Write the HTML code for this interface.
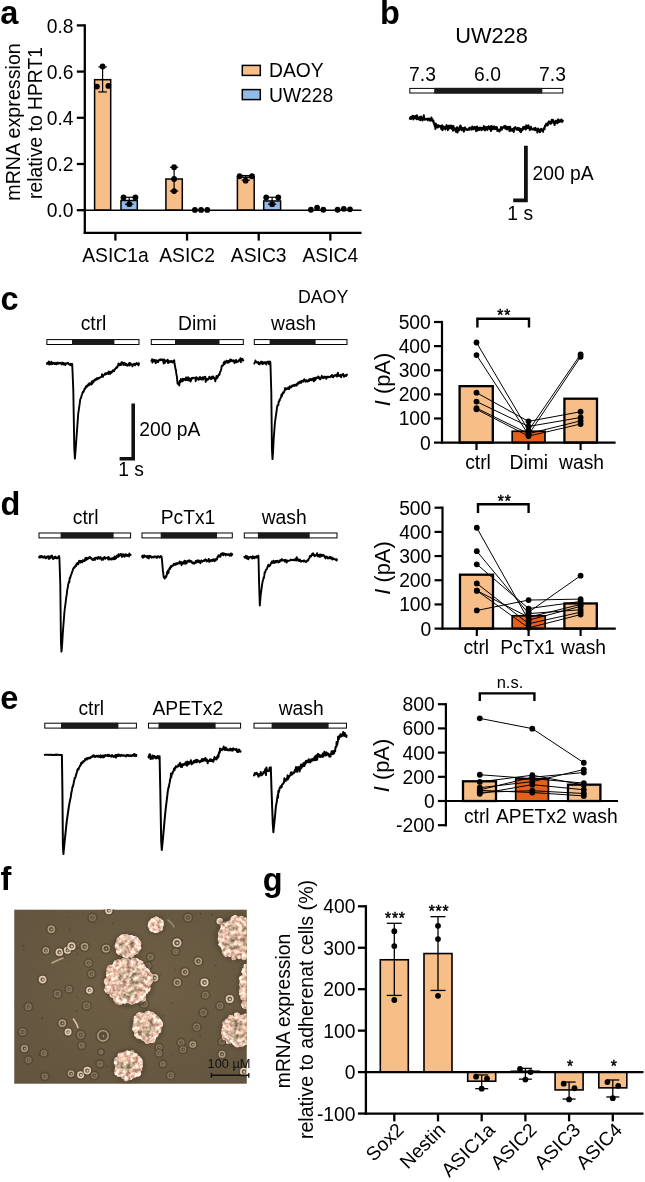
<!DOCTYPE html>
<html lang="en">
<head>
<meta charset="utf-8">
<title>ASIC expression in medulloblastoma cell lines</title>
<style>
html,body{margin:0;padding:0;background:#fff;}
body{width:645px;height:1182px;overflow:hidden;}
svg{display:block;font-family:'Liberation Sans', Arial, Helvetica, sans-serif;fill:#000;}
</style>
</head>
<body>
<svg width="645" height="1182" viewBox="0 0 645 1182">
<rect x="0" y="0" width="645" height="1182" fill="#fff"/>
<g id="panel-a">
<text x="0.3" y="23.9" font-size="32.5" font-weight="bold">a</text>
<text x="19.6" y="122" font-size="19.7" text-anchor="middle" transform="rotate(-90 19.6 122)">mRNA expression</text>
<text x="42.2" y="123" font-size="19.3" text-anchor="middle" transform="rotate(-90 42.2 123)">relative to HPRT1</text>
<rect x="94.6" y="79.69" width="16.1" height="130.51" fill="#F7BF87" stroke="#000" stroke-width="1.5"/>
<line x1="102.6" y1="66.98" x2="102.6" y2="91.93" stroke="#000" stroke-width="1.2"/>
<line x1="98.4" y1="66.98" x2="106.8" y2="66.98" stroke="#000" stroke-width="1.2"/>
<line x1="98.4" y1="91.93" x2="106.8" y2="91.93" stroke="#000" stroke-width="1.2"/>
<circle cx="102.6" cy="66.52" r="2.9"/>
<circle cx="96.9" cy="86.61" r="2.9"/>
<circle cx="108.4" cy="85.92" r="2.9"/>
<rect x="121" y="200.5" width="16.3" height="9.7" fill="#8FBCE9" stroke="#000" stroke-width="1.5"/>
<line x1="129.2" y1="197.26" x2="129.2" y2="204.19" stroke="#000" stroke-width="1.2"/>
<line x1="125" y1="197.26" x2="133.4" y2="197.26" stroke="#000" stroke-width="1.2"/>
<line x1="125" y1="204.19" x2="133.4" y2="204.19" stroke="#000" stroke-width="1.2"/>
<circle cx="123.5" cy="197.49" r="2.9"/>
<circle cx="135.4" cy="197.49" r="2.9"/>
<circle cx="129.3" cy="204.19" r="2.9"/>
<rect x="165.9" y="179.01" width="16.4" height="31.19" fill="#F7BF87" stroke="#000" stroke-width="1.5"/>
<line x1="174.1" y1="167.23" x2="174.1" y2="191.03" stroke="#000" stroke-width="1.2"/>
<line x1="169.9" y1="167.23" x2="178.3" y2="167.23" stroke="#000" stroke-width="1.2"/>
<line x1="169.9" y1="191.03" x2="178.3" y2="191.03" stroke="#000" stroke-width="1.2"/>
<circle cx="174.1" cy="167.23" r="2.9"/>
<circle cx="174.1" cy="179.01" r="2.9"/>
<circle cx="174.1" cy="191.03" r="2.9"/>
<circle cx="194.9" cy="209.97" r="2.9"/>
<circle cx="201.1" cy="209.97" r="2.9"/>
<circle cx="207.3" cy="209.97" r="2.9"/>
<rect x="237.4" y="177.17" width="16.8" height="33.03" fill="#F7BF87" stroke="#000" stroke-width="1.5"/>
<line x1="245.8" y1="175.55" x2="245.8" y2="180.17" stroke="#000" stroke-width="1.2"/>
<line x1="241.6" y1="175.55" x2="250" y2="175.55" stroke="#000" stroke-width="1.2"/>
<line x1="241.6" y1="180.17" x2="250" y2="180.17" stroke="#000" stroke-width="1.2"/>
<circle cx="239.6" cy="176.24" r="2.9"/>
<circle cx="252" cy="176.24" r="2.9"/>
<circle cx="245.6" cy="180.63" r="2.9"/>
<rect x="263.7" y="200.96" width="16.9" height="9.24" fill="#8FBCE9" stroke="#000" stroke-width="1.5"/>
<line x1="272.1" y1="197.26" x2="272.1" y2="204.19" stroke="#000" stroke-width="1.2"/>
<line x1="267.9" y1="197.26" x2="276.3" y2="197.26" stroke="#000" stroke-width="1.2"/>
<line x1="267.9" y1="204.19" x2="276.3" y2="204.19" stroke="#000" stroke-width="1.2"/>
<circle cx="266.2" cy="197.49" r="2.9"/>
<circle cx="278.3" cy="197.49" r="2.9"/>
<circle cx="272.2" cy="204.19" r="2.9"/>
<circle cx="310.9" cy="209.74" r="2.9"/>
<circle cx="317.1" cy="207.66" r="2.9"/>
<circle cx="323.3" cy="209.74" r="2.9"/>
<circle cx="337.6" cy="209.74" r="2.9"/>
<circle cx="343.8" cy="208.81" r="2.9"/>
<circle cx="350" cy="209.28" r="2.9"/>
<line x1="84.8" y1="24.3" x2="84.8" y2="233.9" stroke="#000" stroke-width="2.3"/>
<line x1="83.7" y1="232.8" x2="361.5" y2="232.8" stroke="#000" stroke-width="2.3"/>
<line x1="84.8" y1="210.2" x2="361.5" y2="210.2" stroke="#000" stroke-width="1.6"/>
<line x1="76.8" y1="210.2" x2="84.8" y2="210.2" stroke="#000" stroke-width="2.3"/>
<text x="73.6" y="217.4" font-size="19.3" text-anchor="end">0.0</text>
<line x1="76.8" y1="164" x2="84.8" y2="164" stroke="#000" stroke-width="2.3"/>
<text x="73.6" y="171.2" font-size="19.3" text-anchor="end">0.2</text>
<line x1="76.8" y1="117.8" x2="84.8" y2="117.8" stroke="#000" stroke-width="2.3"/>
<text x="73.6" y="125" font-size="19.3" text-anchor="end">0.4</text>
<line x1="76.8" y1="71.6" x2="84.8" y2="71.6" stroke="#000" stroke-width="2.3"/>
<text x="73.6" y="78.8" font-size="19.3" text-anchor="end">0.6</text>
<line x1="76.8" y1="25.4" x2="84.8" y2="25.4" stroke="#000" stroke-width="2.3"/>
<text x="73.6" y="32.6" font-size="19.3" text-anchor="end">0.8</text>
<line x1="115.4" y1="232.8" x2="115.4" y2="240.6" stroke="#000" stroke-width="2.3"/>
<text x="115.4" y="262" font-size="19.3" text-anchor="middle">ASIC1a</text>
<line x1="187.05" y1="232.8" x2="187.05" y2="240.6" stroke="#000" stroke-width="2.3"/>
<text x="187.05" y="262" font-size="19.3" text-anchor="middle">ASIC2</text>
<line x1="258.7" y1="232.8" x2="258.7" y2="240.6" stroke="#000" stroke-width="2.3"/>
<text x="258.7" y="262" font-size="19.3" text-anchor="middle">ASIC3</text>
<line x1="330.35" y1="232.8" x2="330.35" y2="240.6" stroke="#000" stroke-width="2.3"/>
<text x="330.35" y="262" font-size="19.3" text-anchor="middle">ASIC4</text>
<rect x="242.3" y="65.4" width="18" height="10" fill="#F7BF87" stroke="#000" stroke-width="1.5"/>
<text x="269" y="77" font-size="19.3">DAOY</text>
<rect x="242.3" y="89.6" width="18" height="10" fill="#8FBCE9" stroke="#000" stroke-width="1.5"/>
<text x="269" y="101.7" font-size="19.3">UW228</text>
</g>
<g id="panel-b">
<text x="380" y="24" font-size="32.5" font-weight="bold">b</text>
<text x="491.5" y="42.5" font-size="21.8" text-anchor="middle">UW228</text>
<text x="422.5" y="81" font-size="19.3" text-anchor="middle">7.3</text>
<text x="487.5" y="81" font-size="19.3" text-anchor="middle">6.0</text>
<text x="552.5" y="81" font-size="19.3" text-anchor="middle">7.3</text>
<rect x="409.8" y="88.4" width="153" height="4.6" fill="#fff" stroke="#000" stroke-width="1"/>
<rect x="434.2" y="87.9" width="108.1" height="5.6" fill="#1a1a1a"/>
<polyline fill="none" stroke="#000" stroke-width="2" stroke-linejoin="round" stroke-linecap="round" points="409.8,118.72 410.2,117.99 410.6,116.96 411,119 411.4,118.53 411.8,116.54 412.2,117.46 412.6,115.92 413,115.84 413.4,119.39 413.8,116.35 414.2,118.12 414.6,118.18 415,117.93 415.4,116.01 415.8,116.02 416.2,118.27 416.6,119.3 417,115.25 417.4,116.82 417.8,117.41 418.2,119.07 418.6,118.72 419,119.36 419.4,118.66 419.8,117.08 420,118.29 420.2,120.18 420.6,118.78 421,116.54 421.4,119.84 421.8,118.44 422.2,119.07 422.6,120.49 423,117.42 423.4,117.39 423.8,115.24 424.2,118.62 424.6,119.71 425,118.76 425.4,118.74 425.8,119.5 426.2,119.12 426.6,119.11 427,118.72 427.4,118.64 427.8,120.4 428.2,119.2 428.6,118.42 429,118.38 429.4,119.58 429.8,119.97 430.2,120.58 430.6,119.99 431,119.44 431.4,117.53 431.8,120.24 432.2,118.93 432.5,119.53 432.6,121.23 433,120.91 433.4,120.49 433.8,123.5 434.2,123.6 434.2,123.21 434.6,125.81 435,124.77 435.4,128.9 435.8,123.56 436.2,125.1 436.6,125.88 437,127.17 437.4,125.22 437.8,127.52 438.2,125.61 438.6,125.21 439,126.32 439.4,126.4 439.8,126.66 440,125.96 440.2,126.12 440.6,127.44 441,127.65 441.4,129.34 441.8,125.64 442.2,125.31 442.6,130.15 443,127.9 443.4,128.08 443.8,126.52 444.2,128.5 444.6,128.27 445,128.3 445.4,129.47 445.8,126.55 446.2,127.44 446.6,125.13 447,127.78 447.4,126.32 447.8,130.2 448,125.97 448.2,129.47 448.6,126.52 449,125.58 449.4,128.02 449.8,128.41 450.2,127.26 450.6,126.88 451,125.55 451.4,128.06 451.8,128.75 452.2,125.87 452.6,128.72 453,130.68 453.4,125.92 453.8,128.76 454.2,129 454.6,128.12 455,130.02 455,128.29 455.4,130.1 455.8,131.85 456.2,129.09 456.6,128.82 457,127.34 457.4,132.52 457.8,131.57 458.2,128.19 458.6,128.97 459,128.33 459.4,130.28 459.8,126.28 460.2,129.17 460.6,125.44 461,128.86 461.4,127.31 461.8,130.19 462.2,129.34 462.6,128.16 463,128.14 463.4,127.98 463.8,131.63 464.2,130.39 464.6,128.06 465,127.4 465.4,129.43 465.8,128.93 466.2,128.74 466.6,129.54 467,129.92 467.4,129.45 467.8,130 468.2,129.42 468.6,129.24 469,128.13 469.4,129.71 469.8,128.4 470,127.48 470.2,128.31 470.6,127.85 471,128.38 471.4,128.92 471.8,129.68 472.2,126.39 472.6,128.36 473,128.72 473.4,127.14 473.8,129.32 474.2,128.21 474.6,128.15 475,126.9 475.4,127.24 475.8,129.25 476.2,131.2 476.6,128.72 477,126.4 477.4,130.57 477.8,129 478.2,130.16 478.6,127.96 479,130.03 479.4,129.19 479.8,127.44 480.2,128.22 480.6,128.78 481,127.75 481.4,130.35 481.8,128.06 482.2,129.54 482.6,128.03 483,129.56 483.4,129.36 483.8,126.03 484.2,128.18 484.6,129.18 485,127.8 485,130.44 485.4,129.7 485.8,126.92 486.2,127.52 486.6,128.24 487,126.94 487.4,129.99 487.8,128.79 488.2,127.84 488.6,126.31 489,126.55 489.4,126.86 489.8,129.16 490.2,126.75 490.6,128.69 491,131.02 491.4,125.99 491.8,126.83 492.2,129.38 492.6,128.29 493,126.48 493.4,127.88 493.8,127.83 494.2,129.2 494.6,126.51 495,127.54 495.4,128.09 495.8,129.02 496.2,128.59 496.6,126.9 497,127.65 497.4,131.1 497.8,129.27 498.2,130.49 498.6,130.28 499,130.63 499.4,131.57 499.8,129.63 500,130.72 500.2,129.79 500.6,129.49 501,127.02 501.4,127.85 501.8,129.76 502.2,127.87 502.6,127.61 503,127.72 503.4,126.57 503.8,126.63 504.2,127.7 504.6,126.52 505,125.91 505.4,128.68 505.8,128.81 506.2,127.94 506.6,126.61 507,129.45 507.4,129.08 507.8,127.05 508.2,127.76 508.6,127.24 509,126.78 509.4,130.99 509.8,131.11 510.2,126.77 510.6,130.01 511,129.02 511.4,129.61 511.8,130.71 512.2,130.7 512.6,129.14 513,128.86 513.4,130.38 513.8,131.95 514.2,127.78 514.6,128.32 515,128.34 515.4,127.09 515.8,127.87 516.2,129.65 516.6,129.05 517,128.52 517.4,128.43 517.8,127.81 518.2,130.02 518.6,128.59 519,128.03 519.4,128.64 519.8,129.6 520,131.36 520.2,129.45 520.6,128.79 521,132.21 521.4,129.16 521.8,130.72 522.2,129.68 522.6,129.74 523,127.25 523.4,129.15 523.8,127.94 524.2,126.75 524.6,128.46 525,128.01 525.4,128.55 525.8,129.53 526.2,125.27 526.6,128.47 527,126.14 527.4,125.83 527.8,128.07 528.2,127.66 528.6,125.38 529,128.3 529.4,128.63 529.8,129.91 530.2,129.73 530.6,128.34 531,126.67 531.4,128.79 531.8,129.16 532.2,129.14 532.6,129.51 533,128.95 533.4,129.45 533.8,128.36 534.2,128.54 534.6,129.65 535,130.25 535.4,127.71 535.8,129.01 536.2,129.71 536.6,130.2 537,129.45 537.4,132.56 537.8,129.68 538,128.58 538.2,128.96 538.6,129.17 539,129.77 539.4,130.2 539.8,132.2 540.2,132 540.6,131 541,128.75 541.4,130.55 541.8,129.25 542.2,129.87 542.6,130.4 543,129.41 543,131.84 543.4,129.27 543.8,128.32 544.2,127.76 544.6,129.2 545,125.59 545.4,126.26 545.8,124.75 546,125.6 546.2,123.66 546.6,124.59 547,125.25 547.4,123.34 547.8,125.45 548.2,122.35 548.6,122.84 549,121.37 549.4,123.21 549.5,122.72 549.8,122.35 550.2,123.83 550.6,121.79 551,123.7 551.4,121.34 551.8,119.81 552.2,120.5 552.6,120.89 553,119.82 553,120.25 553.4,123.08 553.8,121.44 554.2,122.74 554.6,124.99 555,122.81 555.4,120.96 555.8,123.06 556.2,120.63 556.6,122.63 557,122.61 557.4,123.17 557.8,120.37 558.2,119.32 558.6,122.15 559,122.19 559.4,121.13 559.8,120.38 560.2,120.46 560.6,120.07 561,121.71 561.4,119.45 561.8,120.6 562.2,121.81 562.6,121.39 562.8,120.78"/>
<polyline fill="none" stroke="#111" stroke-width="3.8" stroke-linejoin="miter" points="525.9,145.8 525.9,200.4 513.2,200.4"/>
<text x="532.6" y="179.6" font-size="19.3">200 pA</text>
<text x="507.3" y="219.6" font-size="19.3">1 s</text>
</g>
<g id="panel-c">
<text x="0.6" y="309.5" font-size="32.5" font-weight="bold">c</text>
<text x="348.3" y="303.3" font-size="17.8" text-anchor="end">DAOY</text>
<text x="93.5" y="329.6" font-size="19.3" text-anchor="middle">ctrl</text>
<text x="197.3" y="329.6" font-size="19.3" text-anchor="middle">Dimi</text>
<text x="293.5" y="329.6" font-size="19.3" text-anchor="middle">wash</text>
<rect x="46.9" y="339.6" width="92.1" height="4.9" fill="#fff" stroke="#000" stroke-width="1"/>
<rect x="72" y="339.1" width="42.4" height="5.9" fill="#1a1a1a"/>
<rect x="151.3" y="339.6" width="92" height="4.9" fill="#fff" stroke="#000" stroke-width="1"/>
<rect x="175" y="339.1" width="44.5" height="5.9" fill="#1a1a1a"/>
<rect x="254.3" y="339.6" width="92.7" height="4.9" fill="#fff" stroke="#000" stroke-width="1"/>
<rect x="269.6" y="339.1" width="46" height="5.9" fill="#1a1a1a"/>
<polyline fill="none" stroke="#000" stroke-width="1.9" stroke-linejoin="round" stroke-linecap="round" points="46.9,363.96 47.3,362.6 47.7,362.75 48.1,362.42 48.5,363.76 48.9,361.52 49.3,364.62 49.7,362.67 50.1,363.38 50.5,363.12 50.9,364.27 51.3,361.7 51.7,362.95 52.1,363.02 52.5,364.03 52.9,362.71 53.3,363.49 53.7,363.13 54.1,363.9 54.5,364.05 54.9,362.7 55.3,364.13 55.7,364.09 56.1,363.87 56.5,364.24 56.9,362.82 57.3,363.09 57.7,362.42 58.1,363.13 58.5,363.84 58.9,363.16 59.3,363.24 59.7,363.1 60,362.68 60.1,362.92 60.5,363.43 60.9,362.62 61.3,363.55 61.7,364.5 62.1,363.81 62.5,363.1 62.9,362.63 63.3,362.97 63.7,364.62 64.1,363.53 64.5,363.3 64.9,363.66 65.3,365.04 65.7,363.51 66.1,363.88 66.5,363.8 66.9,363.24 67.3,362.71 67.7,363.29 68.1,363.08 68.5,363.98 68.9,364.3 69.3,364.66 69.7,364.15 70.1,364.76 70.5,363.68 70.9,365.3 71.3,364.69 71.7,364.1 72.1,364.43 72.2,363.97 72.5,370.9 72.9,380.54 73.3,390.14 73.3,389.88 73.7,413.48 74.1,437.14 74.3,449.01 74.5,452.27 74.9,458.64 74.9,458.49 75.3,453.56 75.5,451.1 75.7,448.32 76.1,442.91 76.5,437.39 76.6,435.99 76.9,431.87 77.3,426.34 77.7,420.79 78.1,415.27 78.2,413.87 78.5,411.84 78.9,409.01 79.3,406.28 79.7,403.65 80.1,400.33 80.2,399.51 80.5,398.71 80.9,398.15 81.3,396.64 81.7,395.27 82.1,394.26 82.5,392.66 82.8,392.6 82.9,391.59 83.3,392.28 83.7,391.04 84.1,390.7 84.5,388.71 84.9,388.88 85.3,388.87 85.7,386.75 86,386.95 86.1,387.12 86.5,385.81 86.9,386.76 87.3,386.5 87.7,385.05 88.1,385.68 88.5,384 88.9,384.74 89.3,383.3 89.7,384.91 90.1,384.16 90.5,383.5 90.9,383.19 91,384.42 91.3,384.47 91.7,381.52 92.1,383.66 92.5,383.58 92.9,382.25 93.3,380.59 93.7,381.83 94.1,380.53 94.5,380.04 94.9,379.52 95.3,380.34 95.7,380.09 96.1,378.62 96.5,379.59 96.9,378.11 97.3,379.25 97.7,378.33 98,378.08 98.1,377.88 98.5,378.58 98.9,378.32 99.3,378.37 99.7,377.48 100.1,377.27 100.5,377.42 100.9,377.19 101.3,377.14 101.7,376.43 102.1,374.29 102.5,376.48 102.9,376.88 103.3,375.68 103.7,375.02 104.1,374.97 104.5,374.82 104.9,374.73 105,373.54 105.3,373.89 105.7,373.37 106.1,374.17 106.5,373.5 106.9,373.67 107.3,372.72 107.7,373.36 108.1,372.58 108.5,374.04 108.9,371.36 109.3,372.19 109.7,372.94 110.1,373.94 110.5,372 110.9,372.01 111.3,371.58 111.7,372.71 112.1,371.55 112.5,371.81 112.5,371.22 112.9,370.18 113.3,370.94 113.7,370.8 114.1,371.13 114.5,369.78 114.9,368.93 115.3,369.08 115.5,368.52 115.7,368.34 116.1,367.6 116.5,368.03 116.9,366.77 117.3,367.46 117.7,366.16 118.1,365.5 118.5,363.53 118.5,365.43 118.9,365.05 119.3,365.13 119.7,365.23 120.1,364.01 120.5,364.52 120.9,363.49 121,365.02 121.3,362.65 121.7,362.19 122.1,362.09 122.5,362.88 122.9,362.68 123.3,365.04 123.7,363.5 124.1,362.76 124.5,364.86 124.9,363.83 125.3,363.36 125.7,365.14 126.1,364.84 126.5,364 126.9,365.6 127.3,364.66 127.7,365.65 128.1,364.42 128.5,364.93 128.9,364.03 129.3,362.91 129.7,365.67 130,363.41 130.1,363.35 130.5,363.14 130.9,363.77 131.3,364.43 131.7,364.74 132.1,365.26 132.5,366.31 132.9,364.78 133.3,364.12 133.7,364.36 134.1,364.62 134.5,363.8 134.9,365.37 135.3,364.19 135.7,364.21 136.1,364.06 136.5,363.05 136.9,363.48 137.3,364.33 137.7,364.37 138.1,363.57 138.5,365.43 138.9,363.3 139,363.94"/>
<polyline fill="none" stroke="#000" stroke-width="1.9" stroke-linejoin="round" stroke-linecap="round" points="151.3,360.71 151.7,360.99 152.1,359.27 152.5,362.58 152.9,359.63 153.3,360.04 153.7,361.32 154.1,359.81 154.5,359.89 154.9,360.13 155.3,361.73 155.7,363.19 156.1,361.33 156.5,360.19 156.9,361.87 157.3,360.81 157.7,361.12 158.1,362.19 158.5,360.34 158.9,360.71 159.3,359.72 159.7,360.02 160.1,360.42 160.5,359.32 160.9,359.87 161.3,360.03 161.7,359.64 162.1,359.46 162.5,359.5 162.9,360.93 163.3,361.03 163.7,363.54 164.1,359.42 164.5,361.45 164.9,361.81 165,362.73 165.3,361.82 165.7,360.47 166.1,360.88 166.5,361.25 166.9,360.48 167.3,361.82 167.7,359.73 168.1,363.12 168.5,362.76 168.9,361.14 169.3,362.02 169.7,361.61 170.1,360.97 170.5,361.57 170.9,362.18 171.3,361.23 171.7,361.05 172.1,361.33 172.5,361.77 172.9,362.51 173.3,361.02 173.7,361.99 174.1,361.84 174.2,360.22 174.5,362.95 174.9,365.5 175.3,367.77 175.7,370.22 176,369.9 176.1,372.33 176.5,374.57 176.9,376.71 177.3,381.1 177.6,383.6 177.7,382.16 178.1,384.04 178.5,384.08 178.9,384.81 179,383.74 179.3,385.54 179.7,380.95 180.1,382.46 180.5,382.1 180.8,379.07 180.9,380.9 181.3,380.46 181.7,380.8 182.1,381.38 182.5,379.65 182.9,378.71 183.3,380.67 183.7,380.47 184.1,378.96 184.5,379.37 184.9,379.12 185,379.44 185.3,379.02 185.7,380.18 186.1,377.33 186.5,380.03 186.9,379.39 187.3,378.93 187.7,380.35 188.1,377.29 188.5,380.47 188.9,379.69 189.3,378.27 189.7,379.8 190.1,378.96 190.5,381.61 190.9,380.7 191.3,378.96 191.7,377.97 192.1,377.8 192.5,378.5 192.9,378.46 193.3,377.73 193.7,377.92 194.1,377.88 194.5,377.88 194.9,377.91 195.3,377.79 195.7,381.22 196.1,377.29 196.5,377.31 196.9,378.83 197.3,378.16 197.7,379.06 198.1,379.29 198.5,379.81 198.9,379.27 199.3,377.5 199.7,379.28 200,377.05 200.1,378.77 200.5,378.57 200.9,377.88 201.3,379.43 201.7,378.64 202.1,379.43 202.5,377.32 202.9,379.62 203.3,379.15 203.7,378.28 204.1,376.87 204.5,378.16 204.9,377.06 205.3,376.71 205.7,381.89 206.1,380.06 206.5,380.63 206.9,378.7 207.3,379.85 207.7,379.75 208.1,379.51 208.5,378.71 208.9,378.57 209.3,376.64 209.7,378.66 210.1,378.5 210.5,378.82 210.9,377.45 211.3,379.11 211.7,377.19 212.1,376.53 212.5,378.41 212.9,377.08 213.3,376.52 213.7,377.48 214.1,378.49 214.5,378.12 214.9,378.5 215.3,381.43 215.7,378.47 216.1,378.83 216.5,375.99 216.9,377.79 217.3,378.01 217.6,376.8 217.7,376.32 218.1,376.43 218.5,375.05 218.9,374.24 219.3,374.98 219.5,374.64 219.7,373.43 220.1,371.72 220.5,371.32 220.9,370.31 221.3,369 221.7,365.85 222,365.68 222.1,366.04 222.5,365.96 222.9,365.53 223.3,364.89 223.7,362.82 224.1,362.39 224.5,361.5 224.5,364.19 224.9,362.53 225.3,362.9 225.7,362.78 226.1,361.46 226.5,360.62 226.9,361.39 227.3,361.61 227.7,362.84 228,362.35 228.1,360.98 228.5,362.48 228.9,362.52 229.3,360.84 229.7,361.57 230.1,359.52 230.5,361.37 230.9,360.62 231.3,359.8 231.7,360.1 232.1,361.19 232.5,360.55 232.9,361.25 233.3,361.3 233.7,360.34 234.1,361.02 234.5,363.19 234.9,361.29 235.3,360.62 235.7,361.07 236.1,359.93 236.5,362.32 236.9,361.53 237.3,361.68 237.7,361.37 238.1,361.02 238.5,361.55 238.9,360.62 239.3,359.74 239.7,359.6 240.1,359.77 240.5,358.29 240.9,362.24 241.3,359.05 241.7,360.25 242.1,359.22 242.5,358.83 242.9,360.64 243.3,360.19 243.3,360.51"/>
<polyline fill="none" stroke="#000" stroke-width="1.9" stroke-linejoin="round" stroke-linecap="round" points="254.3,363.58 254.7,362.49 255.1,362.14 255.5,360.5 255.9,362.14 256.3,361.94 256.7,362.48 257.1,362.31 257.5,362.72 257.9,362.62 258.3,362.04 258.7,364.1 259.1,364.01 259.5,364.42 259.9,363.04 260.3,362.54 260.7,362.4 261.1,361.53 261.5,363.65 261.9,362.02 262,361.83 262.3,362.82 262.7,364.2 263.1,362.95 263.5,362.12 263.9,362.15 264.3,363.38 264.7,362.54 265.1,362.08 265.5,362.31 265.9,363.33 266.3,364.51 266.7,362.18 267.1,362.67 267.5,362.66 267.9,361.51 268.3,362.98 268.7,362.66 269.1,364.41 269.5,363.03 269.9,361.39 270.3,363.02 270.4,362.27 270.7,372.35 271.1,385.42 271.3,391.9 271.5,409.72 271.9,445.48 271.95,449.77 272.3,455.69 272.5,459.07 272.7,456.49 273.05,452.07 273.1,450.97 273.5,442.25 273.6,439.89 273.9,436.21 274.3,430.87 274.7,425.79 275,421.84 275.1,421.4 275.5,418.59 275.9,415.67 276.3,413.01 276.7,409.99 277,407.93 277.1,407.22 277.5,405.12 277.9,405.16 278.3,405.21 278.7,401.69 279.1,401.59 279.5,399.66 279.8,400.36 279.9,399.36 280.3,398.59 280.7,397.9 281.1,396.52 281.5,394.37 281.9,396.29 282.3,393.57 282.7,393.87 283,393.46 283.1,392.12 283.5,392.46 283.9,392.63 284.3,391.49 284.7,390.06 285.1,387.9 285.5,389.34 285.9,389.69 286.3,389.17 286.7,388.53 287,388.84 287.1,388.18 287.5,388.32 287.9,388.91 288.3,387.41 288.7,387.45 289.1,389.15 289.5,388.14 289.9,386.19 290.3,387.09 290.7,387.21 291.1,387.48 291.5,386.58 291.9,385.78 292,385.75 292.3,386.46 292.7,385.96 293.1,385.11 293.5,385.41 293.9,385.26 294.3,385.97 294.7,384.8 295.1,385.51 295.5,385.56 295.9,385.19 296.3,384.18 296.7,385.51 297.1,383.8 297.5,384.37 297.9,383.35 298.3,382.33 298.7,383.61 299.1,383.14 299.5,382.53 299.9,382.45 300,381.6 300.3,381.38 300.7,381.6 301.1,382.95 301.5,381.74 301.9,380.76 302.3,381.59 302.7,380.71 303.1,380.57 303.5,381.71 303.9,380.11 304.3,379.19 304.7,379.85 305.1,380.72 305.5,380.85 305.9,381.79 306.3,380.18 306.7,381.09 307.1,380.77 307.5,380.66 307.9,381.55 308.3,381.02 308.7,379.71 309.1,380.96 309.5,379.17 309.9,380.1 310.3,379.98 310.5,380.16 310.7,379.05 311.1,379.27 311.5,379.35 311.9,380.3 312.3,378.79 312.7,379.32 313.1,378.89 313.5,378.12 313.9,381.26 314.3,379.05 314.7,378.11 315.1,380.23 315.5,377.79 315.9,378.74 316.3,378.8 316.7,377.39 317.1,377.33 317.5,377.36 317.9,377.84 318.3,376.35 318.7,376.72 319.1,377.94 319.5,378.69 319.9,378.38 320.3,379.38 320.7,378.62 321.1,377.24 321.5,377.21 321.9,375.83 322,376.7 322.3,376.7 322.7,377.78 323.1,378.28 323.5,377.36 323.9,377.08 324.3,376.57 324.7,377.65 325.1,377.82 325.5,377.74 325.9,376.62 326.3,378.86 326.7,377.88 327.1,376.83 327.5,376.65 327.9,376.6 328.3,377.14 328.7,376.83 329.1,377.1 329.5,377.04 329.9,377.23 330.3,376.96 330.7,376.02 331.1,376.21 331.5,375.59 331.9,375.06 332.3,376.97 332.7,375.31 333.1,377.4 333.5,375.6 333.9,376.1 334.3,376.35 334.7,375.46 335,375.59 335.1,375.1 335.5,375 335.9,375.08 336.3,374.6 336.7,376.44 337.1,374.78 337.5,376.35 337.9,372.78 338.3,375.13 338.7,375.72 339.1,375.06 339.5,376 339.9,375.28 340.3,374.67 340.7,375.54 341.1,377.21 341.5,375.27 341.9,375.31 342.3,374.46 342.7,375.01 343.1,373.84 343.5,374.77 343.9,376.9 344.3,375.63 344.7,375.36 345.1,375.79 345.5,375.94 345.9,375.02 346.3,375.92 346.7,375.13 347,374.52"/>
<polyline fill="none" stroke="#111" stroke-width="3.6" stroke-linejoin="miter" points="133.2,403.4 133.2,458.8 119.6,458.8"/>
<text x="139.2" y="436.4" font-size="19.3">200 pA</text>
<text x="118.2" y="475.6" font-size="19.3">1 s</text>
<rect x="459.6" y="386.16" width="33.2" height="56.44" fill="#F7BF87" stroke="#000" stroke-width="2.3"/>
<rect x="512.2" y="431.26" width="32.8" height="11.34" fill="#E5601B" stroke="#000" stroke-width="1.7"/>
<rect x="564.4" y="398.7" width="32.6" height="43.9" fill="#F7BF87" stroke="#000" stroke-width="2.3"/>
<polyline fill="none" stroke="#000" stroke-width="1" stroke-linejoin="miter" stroke-linecap="round" points="476.5,342.5 528.5,430.54 580.6,354.32"/>
<polyline fill="none" stroke="#000" stroke-width="1" stroke-linejoin="miter" stroke-linecap="round" points="476.5,355.04 528.5,434.64 580.6,356.73"/>
<polyline fill="none" stroke="#000" stroke-width="1" stroke-linejoin="miter" stroke-linecap="round" points="476.5,392.67 528.5,421.37 580.6,411.73"/>
<polyline fill="none" stroke="#000" stroke-width="1" stroke-linejoin="miter" stroke-linecap="round" points="476.5,401.6 528.5,426.44 580.6,417.52"/>
<polyline fill="none" stroke="#000" stroke-width="1" stroke-linejoin="miter" stroke-linecap="round" points="476.5,408.11 528.5,433.68 580.6,420.89"/>
<polyline fill="none" stroke="#000" stroke-width="1" stroke-linejoin="miter" stroke-linecap="round" points="476.5,409.31 528.5,436.09 580.6,424.03"/>
<circle cx="476.5" cy="342.5" r="2.9"/>
<circle cx="528.5" cy="430.54" r="2.9"/>
<circle cx="580.6" cy="354.32" r="2.9"/>
<circle cx="476.5" cy="355.04" r="2.9"/>
<circle cx="528.5" cy="434.64" r="2.9"/>
<circle cx="580.6" cy="356.73" r="2.9"/>
<circle cx="476.5" cy="392.67" r="2.9"/>
<circle cx="528.5" cy="421.37" r="2.9"/>
<circle cx="580.6" cy="411.73" r="2.9"/>
<circle cx="476.5" cy="401.6" r="2.9"/>
<circle cx="528.5" cy="426.44" r="2.9"/>
<circle cx="580.6" cy="417.52" r="2.9"/>
<circle cx="476.5" cy="408.11" r="2.9"/>
<circle cx="528.5" cy="433.68" r="2.9"/>
<circle cx="580.6" cy="420.89" r="2.9"/>
<circle cx="476.5" cy="409.31" r="2.9"/>
<circle cx="528.5" cy="436.09" r="2.9"/>
<circle cx="580.6" cy="424.03" r="2.9"/>
<line x1="442" y1="320.9" x2="442" y2="443.7" stroke="#000" stroke-width="2.2"/>
<line x1="440.9" y1="442.6" x2="615.6" y2="442.6" stroke="#000" stroke-width="2.2"/>
<line x1="434" y1="442.6" x2="442" y2="442.6" stroke="#000" stroke-width="2.2"/>
<text x="430.8" y="449.6" font-size="19.3" text-anchor="end">0</text>
<line x1="434" y1="418.48" x2="442" y2="418.48" stroke="#000" stroke-width="2.2"/>
<text x="430.8" y="425.48" font-size="19.3" text-anchor="end">100</text>
<line x1="434" y1="394.36" x2="442" y2="394.36" stroke="#000" stroke-width="2.2"/>
<text x="430.8" y="401.36" font-size="19.3" text-anchor="end">200</text>
<line x1="434" y1="370.24" x2="442" y2="370.24" stroke="#000" stroke-width="2.2"/>
<text x="430.8" y="377.24" font-size="19.3" text-anchor="end">300</text>
<line x1="434" y1="346.12" x2="442" y2="346.12" stroke="#000" stroke-width="2.2"/>
<text x="430.8" y="353.12" font-size="19.3" text-anchor="end">400</text>
<line x1="434" y1="322" x2="442" y2="322" stroke="#000" stroke-width="2.2"/>
<text x="430.8" y="329" font-size="19.3" text-anchor="end">500</text>
<line x1="476.5" y1="442.6" x2="476.5" y2="450" stroke="#000" stroke-width="2.2"/>
<line x1="528.5" y1="442.6" x2="528.5" y2="450" stroke="#000" stroke-width="2.2"/>
<line x1="580.6" y1="442.6" x2="580.6" y2="450" stroke="#000" stroke-width="2.2"/>
<text x="478" y="468.6" font-size="19.3" text-anchor="middle">ctrl</text>
<text x="528.8" y="468.6" font-size="19.3" text-anchor="middle">Dimi</text>
<text x="581.5" y="468.6" font-size="19.3" text-anchor="middle">wash</text>
<text x="389.8" y="379.5" font-size="21.8" text-anchor="middle" transform="rotate(-90 389.8 379.5)"><tspan font-style="italic">I</tspan> (pA)</text>
<polyline fill="none" stroke="#000" stroke-width="2.4" stroke-linejoin="miter" points="477.4,327.6 477.4,318.7 529,318.7 529,327.6"/>
<text x="504.2" y="321" font-size="15.6" text-anchor="middle" stroke="#000" stroke-width="0.45" letter-spacing="0.9">**</text>
</g>
<g id="panel-d">
<text x="0.6" y="515.1" font-size="32.5" font-weight="bold">d</text>
<text x="85.7" y="523.8" font-size="19.3" text-anchor="middle">ctrl</text>
<text x="188" y="523.8" font-size="19.3" text-anchor="middle">PcTx1</text>
<text x="284.2" y="523.8" font-size="19.3" text-anchor="middle">wash</text>
<rect x="39" y="533" width="91.6" height="4.9" fill="#fff" stroke="#000" stroke-width="1"/>
<rect x="60.6" y="532.5" width="53" height="5.9" fill="#1a1a1a"/>
<rect x="142" y="533" width="90.3" height="4.9" fill="#fff" stroke="#000" stroke-width="1"/>
<rect x="160.7" y="532.5" width="56.3" height="5.9" fill="#1a1a1a"/>
<rect x="244.3" y="533" width="92.7" height="4.9" fill="#fff" stroke="#000" stroke-width="1"/>
<rect x="257.9" y="532.5" width="51.8" height="5.9" fill="#1a1a1a"/>
<polyline fill="none" stroke="#000" stroke-width="1.9" stroke-linejoin="round" stroke-linecap="round" points="39,557.09 39.4,557.56 39.8,556.28 40.2,557.62 40.6,556.83 41,555.9 41.4,556.35 41.8,557.32 42.2,557.29 42.6,556.28 43,557.63 43.4,557.23 43.8,557.62 44.2,557.5 44.6,556.27 45,557.69 45.4,557.02 45.8,558.39 46.2,557.72 46.6,557.3 47,556.4 47.4,557.23 47.8,557.41 48.2,556.21 48.6,558.82 49,557.38 49.4,558.77 49.8,556.42 50,558.3 50.2,556.13 50.6,556.62 51,557.4 51.4,557.46 51.8,555.44 52.2,556.04 52.6,557.82 53,559.07 53.4,558.32 53.8,557.52 54.2,558.45 54.6,557.08 55,558.05 55.4,556.57 55.8,557.99 56.2,557.61 56.6,558.37 57,557.57 57.4,558.31 57.8,557.16 58.2,558.03 58.6,558.04 59,555.97 59.4,557.54 59.4,557.61 59.8,569.26 60.2,581.93 60.3,584.96 60.6,611.44 60.95,642.12 61,642.95 61.4,650.1 61.5,651.65 61.8,648.32 62.1,644.93 62.2,643.34 62.6,636.39 62.8,633.14 63,630.41 63.4,625.32 63.8,620.31 64.2,615.07 64.5,611.1 64.6,610.43 65,607.24 65.4,604.27 65.8,601.15 66.2,597.44 66.6,595.45 67,592.46 67,591.57 67.4,588.86 67.8,587.61 68.2,584.11 68.6,583.55 69,581.44 69.4,582.12 69.6,578.83 69.8,577.63 70.2,578.15 70.6,576.34 71,575.15 71.4,574.18 71.8,573.17 72.2,571.5 72.6,571 72.8,570.17 73,569.09 73.4,568.86 73.8,567.41 74.2,567.86 74.6,567.68 75,566.81 75.4,566.05 75.8,564.99 76.2,565.95 76.6,563.82 77,563.3 77,563.29 77.4,563.39 77.8,562.67 78.2,564.32 78.6,563.07 79,561.03 79.4,561.55 79.8,560.67 80.2,562.61 80.6,562.5 81,560.88 81.4,561.77 81.8,560.94 82,561.05 82.2,562.23 82.6,560.62 83,559.96 83.4,561.25 83.8,561.1 84.2,560.82 84.6,560.95 85,559.39 85.4,558.03 85.8,560.24 86.2,559 86.6,558.14 87,557.69 87.4,559.3 87.8,558.55 88.2,558.42 88.6,558.46 89,557.46 89.4,557.08 89.8,557.24 90,556.99 90.2,557.95 90.6,557.68 91,558.58 91.4,558.13 91.8,558.78 92.2,559.39 92.6,560.05 93,560.14 93.4,558.87 93.8,558.87 94.2,558.17 94.6,559.33 95,559.92 95.4,557.91 95.8,558.78 96.2,557.57 96.6,557.76 97,558.22 97.4,557.84 97.8,558.93 98.2,556.89 98.6,557.43 99,558.13 99.4,557.48 99.8,558.71 100,557.19 100.2,558.49 100.6,557.08 101,557.95 101.4,558.58 101.8,559.96 102.2,558.86 102.6,559.17 103,557.93 103.4,559.69 103.8,557.57 104.2,557.72 104.6,556.98 105,558.17 105.4,558.8 105.8,557.68 106.2,558.01 106.6,558.03 107,557.96 107.4,557.94 107.8,557.46 108.2,559.5 108.6,556.89 109,557.74 109.4,558.88 109.8,559.55 110.2,558.76 110.6,558.58 111,558.8 111.4,558.55 111.8,559.54 112.2,558.42 112.5,557.97 112.6,558.15 113,558.57 113.4,559.02 113.8,559.38 114.2,557.45 114.5,556.43 114.6,556.41 115,558.97 115.4,556.91 115.8,557.6 116.2,558.25 116.6,555.93 117,555.8 117,555.66 117.4,555.39 117.8,556.76 118.2,556.88 118.6,554.17 119,556.32 119.4,555.06 119.8,555.44 120.2,555.29 120.6,553.88 121,554.69 121.4,554.49 121.8,556.71 122.2,556.82 122.6,554.87 123,554.1 123.4,555.84 123.8,554.78 124.2,556.53 124.6,556.68 125,556.15 125,554.61 125.4,554.26 125.8,554.82 126.2,555.22 126.6,554.49 127,556.1 127.4,555.71 127.8,554.95 128.2,554.84 128.6,555.67 129,556.43 129.4,553.43 129.8,555.15 130.2,554.82 130.6,554.7 130.6,554.92"/>
<polyline fill="none" stroke="#000" stroke-width="1.9" stroke-linejoin="round" stroke-linecap="round" points="142,556.54 142.4,555.69 142.8,557.87 143.2,555.65 143.6,556.01 144,557.17 144.4,555.32 144.8,555.78 145.2,556.58 145.6,556.42 146,556.08 146.4,556.89 146.8,557.06 147.2,557.66 147.6,555.87 148,556.64 148.4,558 148.8,558.55 149.2,555.6 149.6,557.17 150,555.98 150.4,556.01 150.8,556.29 151.2,556.66 151.6,557.73 152,557.64 152.4,557.09 152.8,556.7 153.2,557 153.6,557.05 154,557.52 154.4,556.32 154.8,556.78 155,556.8 155.2,556.66 155.6,556.86 156,556.73 156.4,557.72 156.8,556.55 157.2,557.84 157.6,556.44 158,556.27 158.4,556.61 158.8,556.55 159.2,556.64 159.6,557.62 160,557.44 160.4,556.62 160.8,556.04 161.2,556.23 161.6,557.48 161.6,556.66 162,560.12 162.4,564.85 162.8,569.32 162.8,570.83 163.2,572.46 163.6,576.68 164,577.43 164.2,578.07 164.4,577.51 164.8,578.57 165.2,577.06 165.6,576.21 166,577.28 166,576.55 166.4,576.52 166.8,574.62 167.2,571.72 167.6,573.7 168,570.47 168.4,572.8 168.5,572.99 168.8,570.32 169.2,568.96 169.6,568.1 170,569.14 170.4,567.47 170.8,566.45 171,566 171.2,567.35 171.6,565.82 172,566.08 172.4,565.82 172.8,565.69 173.2,565.67 173.6,563.99 174,564.01 174.4,564 174.8,563.84 175,565.15 175.2,563.72 175.6,564.09 176,563.48 176.4,563.22 176.8,564.46 177.2,563.32 177.6,563.01 178,563.6 178.4,563.41 178.8,563.57 179.2,562.78 179.6,561.45 180,563.37 180.4,563.18 180.8,563.55 181.2,562.08 181.6,565.17 182,562.16 182.4,563.57 182.8,563.24 183.2,562.61 183.6,563.57 184,562.45 184.4,560.78 184.8,561.58 185,562.47 185.2,563.74 185.6,560.94 186,561.99 186.4,563.47 186.8,562.77 187.2,561.88 187.6,561.02 188,560.7 188.4,561.46 188.8,561.68 189.2,560.26 189.6,560.53 190,561.95 190.4,561.41 190.8,561.06 191.2,561.61 191.6,561.18 192,562.5 192.4,563.22 192.8,563.49 193.2,562.63 193.6,562.54 194,563.31 194.4,563.67 194.8,563.25 195.2,563.02 195.6,561.46 196,560.64 196.4,562.63 196.8,561.5 197.2,561.58 197.6,560.69 198,560.18 198.4,562.27 198.8,561.76 199.2,560.63 199.6,561.89 200,561.73 200,562.02 200.4,563.26 200.8,561.46 201.2,560.5 201.6,561.61 202,560.75 202.4,561.67 202.8,561.11 203.2,561.09 203.6,560.4 204,560.99 204.4,560 204.8,560.67 205.2,559.8 205.6,559.26 206,560.5 206.4,559.87 206.8,561.56 207.2,560.81 207.6,560.72 208,560.82 208.4,560.65 208.8,558.95 209.2,561.93 209.6,560.36 210,561.46 210.4,560.1 210.8,560.57 211.2,560.83 211.6,559.97 212,560.68 212.4,561.01 212.8,560.08 213.2,559.23 213.6,559.81 214,560.74 214.4,561.17 214.8,560.87 215,560.21 215.2,559.12 215.6,560.4 216,559.15 216.4,558.77 216.8,559.58 217,558.98 217.2,558.82 217.6,556.64 218,556.58 218.4,555.18 218.8,556.19 219,556.14 219.2,556.65 219.6,555.94 220,555.15 220.4,556.81 220.8,554.05 221.2,553.63 221.5,554 221.6,554.66 222,553.75 222.4,553.85 222.8,553.04 223.2,555.26 223.6,553.5 224,553.43 224.4,554.2 224.8,553.75 225.2,554.14 225.6,555.46 226,554.03 226.4,554.54 226.8,554.04 227.2,554.51 227.6,555.07 228,555.06 228.4,554.4 228.8,554.1 229.2,555.02 229.6,555.65 230,554.84 230.4,554.95 230.8,553.52 231.2,555.91 231.6,553.77 232,553.87 232.3,554.71"/>
<polyline fill="none" stroke="#000" stroke-width="1.9" stroke-linejoin="round" stroke-linecap="round" points="244.3,556.88 244.7,557.59 245.1,557.37 245.5,556.79 245.9,555.86 246.3,558.27 246.7,558.56 247.1,556.2 247.5,558.43 247.9,557.02 248.3,559.36 248.7,557.9 249.1,557 249.5,557.98 249.9,557.03 250.3,556.81 250.7,556.91 251.1,557 251.5,557.75 251.9,557.87 252,557.51 252.3,558.64 252.7,556.21 253.1,557.13 253.5,558.09 253.9,556.62 254.3,558.41 254.7,557.81 255.1,557.08 255.5,557.51 255.9,556.82 256.3,556.17 256.7,557.42 257.1,557.66 257.5,557.09 257.9,557.08 258.3,555.56 258.5,556.48 258.7,566.07 259,580 259.1,583.29 259.5,595.98 259.8,605.53 259.9,604.48 260.3,599.75 260.7,595.02 260.8,594.05 261.1,591.8 261.5,589.02 261.9,586.18 262.3,583.43 262.5,582.08 262.7,581.17 263.1,579.93 263.5,577.65 263.9,578 264.3,575.49 264.7,572.23 264.7,572.96 265.1,572.59 265.5,571.41 265.9,569.8 266.3,569.49 266.7,569.36 267.1,568.45 267.5,566.77 267.9,566.84 268,565.78 268.3,564.78 268.7,566.24 269.1,566.29 269.5,565.37 269.9,565.55 270.3,565.33 270.7,563.84 271.1,562.94 271.5,562.78 271.9,561.37 272.3,562.18 272.7,561.85 273,561.93 273.1,563.05 273.5,560.72 273.9,562.89 274.3,561.72 274.7,562.81 275.1,562.49 275.5,561.04 275.9,562.39 276.3,561.23 276.7,561.81 277.1,560.71 277.5,560.7 277.9,561.32 278.3,562.52 278.7,561.3 279.1,561.04 279.5,562.09 279.9,560.9 280,560.22 280.3,560 280.7,560.86 281.1,560.74 281.5,559.87 281.9,559.07 282.3,560.18 282.7,560.51 283.1,560.07 283.5,560.25 283.9,560.15 284.3,560.27 284.7,561.52 285.1,560.8 285.5,559.66 285.9,561.52 286.3,560.58 286.7,562.53 287.1,560.5 287.5,560.5 287.9,560.97 288.3,560.86 288.7,560.81 289.1,560.82 289.5,560.54 289.9,560.27 290.3,560.37 290.7,559.61 291.1,560.13 291.5,560.03 291.9,560.14 292.3,559.83 292.7,559.78 293.1,560.29 293.5,559.7 293.9,560.06 294.3,560.31 294.7,559.74 295,559.58 295.1,559.89 295.5,558.63 295.9,560.51 296.3,559.57 296.7,557.27 297.1,560.33 297.5,558.79 297.9,560.56 298.3,559.45 298.7,560.25 299.1,561.01 299.5,559.79 299.9,559.56 300.3,560.39 300.7,561.62 301.1,561.51 301.5,561.56 301.9,560.82 302.3,560.99 302.7,561.16 303.1,561.06 303.5,560.48 303.9,561.59 304.3,560.48 304.7,560.65 305.1,561.32 305.5,561.34 305.9,562.11 306.3,561.6 306.7,561.07 307,561.27 307.1,560.76 307.5,560.32 307.9,560.71 308.3,560.08 308.7,558.85 309,558.58 309.1,558.26 309.5,557.81 309.9,556 310.3,556.95 310.7,556.05 311,556.41 311.1,556.19 311.5,555.56 311.9,554.17 312.3,553.85 312.7,555.05 313,554.86 313.1,553.32 313.5,553.89 313.9,555.43 314.3,554.89 314.7,556.27 315.1,555.18 315.5,555.76 315.9,555.11 316.3,555.04 316.7,554.44 317.1,553.25 317.5,556.21 317.9,556.09 318.3,555.39 318.7,556.54 319.1,554.61 319.5,556.68 319.9,555.9 320,556.7 320.3,554.35 320.7,556.61 321.1,556.08 321.5,555.59 321.9,554.73 322.3,555.71 322.7,555.91 323.1,555.48 323.5,554.91 323.9,555.34 324.3,555.77 324.7,557.28 325.1,557.58 325.5,558.4 325.9,557.77 326.3,556.36 326.7,556.9 327.1,556.66 327.5,557.38 327.9,558.55 328.3,557.6 328.7,557.51 329.1,558.12 329.5,558.08 329.9,558.31 330,556.72 330.3,556.94 330.7,557.39 331.1,558.59 331.5,558.32 331.9,557.37 332.3,559.55 332.7,558.12 333.1,558.79 333.5,559.08 333.9,558.54 334.3,559.37 334.7,559.42 335.1,559.36 335.5,559.66 335.9,559.19 336.3,558.93 336.7,560.47 337,559.64"/>
<rect x="460" y="574.68" width="33" height="53.92" fill="#F7BF87" stroke="#000" stroke-width="2.3"/>
<rect x="512.2" y="615.78" width="33" height="12.82" fill="#E5601B" stroke="#000" stroke-width="1.7"/>
<rect x="564.4" y="603.45" width="32.4" height="25.15" fill="#F7BF87" stroke="#000" stroke-width="2.3"/>
<polyline fill="none" stroke="#000" stroke-width="1" stroke-linejoin="miter" stroke-linecap="round" points="476.8,527.77 528.6,620.14 580.6,606.35"/>
<polyline fill="none" stroke="#000" stroke-width="1" stroke-linejoin="miter" stroke-linecap="round" points="476.8,551.22 528.6,613.61 580.6,609.74"/>
<polyline fill="none" stroke="#000" stroke-width="1" stroke-linejoin="miter" stroke-linecap="round" points="476.8,564.28 528.6,608.53 580.6,601.52"/>
<polyline fill="none" stroke="#000" stroke-width="1" stroke-linejoin="miter" stroke-linecap="round" points="476.8,583.38 528.6,623.76 580.6,612.16"/>
<polyline fill="none" stroke="#000" stroke-width="1" stroke-linejoin="miter" stroke-linecap="round" points="476.8,590.64 528.6,627.87 580.6,614.58"/>
<polyline fill="none" stroke="#000" stroke-width="1" stroke-linejoin="miter" stroke-linecap="round" points="476.8,590.64 528.6,617.24 580.6,604.42"/>
<polyline fill="none" stroke="#000" stroke-width="1" stroke-linejoin="miter" stroke-linecap="round" points="476.8,610.47 528.6,600.07 580.6,599.1"/>
<polyline fill="none" stroke="#000" stroke-width="1" stroke-linejoin="miter" stroke-linecap="round" points="528.6,612.16 580.6,575.65"/>
<circle cx="476.8" cy="527.77" r="2.9"/>
<circle cx="528.6" cy="620.14" r="2.9"/>
<circle cx="580.6" cy="606.35" r="2.9"/>
<circle cx="476.8" cy="551.22" r="2.9"/>
<circle cx="528.6" cy="613.61" r="2.9"/>
<circle cx="580.6" cy="609.74" r="2.9"/>
<circle cx="476.8" cy="564.28" r="2.9"/>
<circle cx="528.6" cy="608.53" r="2.9"/>
<circle cx="580.6" cy="601.52" r="2.9"/>
<circle cx="476.8" cy="583.38" r="2.9"/>
<circle cx="528.6" cy="623.76" r="2.9"/>
<circle cx="580.6" cy="612.16" r="2.9"/>
<circle cx="476.8" cy="590.64" r="2.9"/>
<circle cx="528.6" cy="627.87" r="2.9"/>
<circle cx="580.6" cy="614.58" r="2.9"/>
<circle cx="476.8" cy="590.64" r="2.9"/>
<circle cx="528.6" cy="617.24" r="2.9"/>
<circle cx="580.6" cy="604.42" r="2.9"/>
<circle cx="476.8" cy="610.47" r="2.9"/>
<circle cx="528.6" cy="600.07" r="2.9"/>
<circle cx="580.6" cy="599.1" r="2.9"/>
<circle cx="528.6" cy="612.16" r="2.9"/>
<circle cx="580.6" cy="575.65" r="2.9"/>
<line x1="442.5" y1="506.6" x2="442.5" y2="629.7" stroke="#000" stroke-width="2.2"/>
<line x1="441.4" y1="628.6" x2="615.8" y2="628.6" stroke="#000" stroke-width="2.2"/>
<line x1="434.5" y1="628.6" x2="442.5" y2="628.6" stroke="#000" stroke-width="2.2"/>
<text x="431.3" y="635.6" font-size="19.3" text-anchor="end">0</text>
<line x1="434.5" y1="604.42" x2="442.5" y2="604.42" stroke="#000" stroke-width="2.2"/>
<text x="431.3" y="611.42" font-size="19.3" text-anchor="end">100</text>
<line x1="434.5" y1="580.24" x2="442.5" y2="580.24" stroke="#000" stroke-width="2.2"/>
<text x="431.3" y="587.24" font-size="19.3" text-anchor="end">200</text>
<line x1="434.5" y1="556.06" x2="442.5" y2="556.06" stroke="#000" stroke-width="2.2"/>
<text x="431.3" y="563.06" font-size="19.3" text-anchor="end">300</text>
<line x1="434.5" y1="531.88" x2="442.5" y2="531.88" stroke="#000" stroke-width="2.2"/>
<text x="431.3" y="538.88" font-size="19.3" text-anchor="end">400</text>
<line x1="434.5" y1="507.7" x2="442.5" y2="507.7" stroke="#000" stroke-width="2.2"/>
<text x="431.3" y="514.7" font-size="19.3" text-anchor="end">500</text>
<line x1="476.8" y1="628.6" x2="476.8" y2="636" stroke="#000" stroke-width="2.2"/>
<line x1="528.6" y1="628.6" x2="528.6" y2="636" stroke="#000" stroke-width="2.2"/>
<line x1="580.6" y1="628.6" x2="580.6" y2="636" stroke="#000" stroke-width="2.2"/>
<text x="476.3" y="653.6" font-size="19.3" text-anchor="middle">ctrl</text>
<text x="527.5" y="653.6" font-size="19.3" text-anchor="middle">PcTx1</text>
<text x="583.5" y="653.6" font-size="19.3" text-anchor="middle">wash</text>
<text x="389.8" y="568" font-size="21.8" text-anchor="middle" transform="rotate(-90 389.8 568)"><tspan font-style="italic">I</tspan> (pA)</text>
<polyline fill="none" stroke="#000" stroke-width="2.4" stroke-linejoin="miter" points="478,512.9 478,504.2 528.6,504.2 528.6,512.9"/>
<text x="504.7" y="506.7" font-size="15.6" text-anchor="middle" stroke="#000" stroke-width="0.45" letter-spacing="0.9">**</text>
</g>
<g id="panel-e">
<text x="0.3" y="709.1" font-size="32.5" font-weight="bold">e</text>
<text x="91.3" y="714.8" font-size="19.3" text-anchor="middle">ctrl</text>
<text x="187.8" y="714.8" font-size="19.3" text-anchor="middle">APETx2</text>
<text x="301.2" y="714.8" font-size="19.3" text-anchor="middle">wash</text>
<rect x="44.8" y="723.2" width="91.6" height="4.9" fill="#fff" stroke="#000" stroke-width="1"/>
<rect x="61" y="722.7" width="57.4" height="5.9" fill="#1a1a1a"/>
<rect x="148.5" y="723.2" width="92.1" height="4.9" fill="#fff" stroke="#000" stroke-width="1"/>
<rect x="158.5" y="722.7" width="57.1" height="5.9" fill="#1a1a1a"/>
<rect x="254" y="723.2" width="92.5" height="4.9" fill="#fff" stroke="#000" stroke-width="1"/>
<rect x="271.6" y="722.7" width="57" height="5.9" fill="#1a1a1a"/>
<polyline fill="none" stroke="#000" stroke-width="2" stroke-linejoin="round" stroke-linecap="round" points="44.8,754.88 45.2,754.76 45.6,754.8 46,754.83 46.4,754.75 46.8,754.81 47.2,754.83 47.6,754.74 48,754.92 48.4,754.87 48.8,754.81 49.2,754.85 49.6,754.89 50,754.86 50.4,754.87 50.8,754.79 51.2,754.9 51.6,754.87 52,754.92 52.4,754.82 52.8,754.99 53.2,754.91 53.6,754.89 54,755.03 54.4,754.91 54.8,754.81 55,754.88 55.2,754.75 55.6,754.93 56,754.84 56.4,754.82 56.8,754.93 57.2,754.78 57.6,754.92 58,754.79 58.4,754.85 58.8,754.84 59.2,755.03 59.6,755.07 60,754.97 60.4,755.02 60.8,754.97 61.2,755.02 61.6,754.98 61.9,754.94 62,761.94 62.4,790.06 62.4,790.17 62.8,834.04 62.9,844.99 63.2,850.54 63.4,854.04 63.6,852.01 64,848.02 64,848 64.4,843.98 64.8,839.9 65,838 65.2,836.08 65.6,832.39 66,828.52 66.4,824.64 66.8,820.96 66.8,821.08 67.2,818.17 67.6,815.35 68,812.54 68.4,809.76 68.8,807 68.8,806.93 69.2,804.87 69.6,802.57 70,800.35 70.4,798.71 70.8,796.72 71.2,793.56 71.6,791.57 71.6,791.76 72,789.71 72.4,787.21 72.8,786.8 73.2,785.35 73.6,783.47 74,780.99 74.4,779.57 74.8,777.73 74.8,777.91 75.2,777.81 75.6,776.72 76,775.03 76.4,773.67 76.8,772.59 77.2,770.91 77.6,769.87 77.8,769.01 78,769.19 78.4,769.59 78.8,768.44 79.2,767.36 79.6,766.62 80,765.57 80.4,765.64 80.8,764.91 81.2,762.84 81.2,763.8 81.6,762.87 82,763.32 82.4,762.08 82.8,762.73 83.2,761.27 83.6,761.03 84,760.93 84.4,761.14 84.8,760.48 85.2,759.14 85.5,759.7 85.6,759.29 86,758.81 86.4,758.39 86.8,759.59 87.2,758.41 87.6,758.04 88,758.6 88.4,757.93 88.8,757.8 89.2,758.33 89.6,757.98 90,757.97 90.4,758.12 90.4,757.52 90.8,756.86 91.2,756.77 91.6,756.61 92,756.86 92.4,756.04 92.8,755.54 93.2,756.5 93.6,755.63 94,755.33 94.4,756.63 94.8,756.22 95.2,756.86 95.6,756.31 96,755.93 96.4,755.82 96.8,756.35 97,756.55 97.2,756.14 97.6,756.6 98,755.75 98.4,756.83 98.8,755.69 99.2,756.44 99.6,757.02 100,757.02 100.4,757.32 100.8,755.38 101.2,756.73 101.6,757.24 102,756.97 102.4,755.68 102.8,756.59 103.2,757.37 103.6,755.44 104,756.44 104.4,756.88 104.8,755.45 105,755.99 105.2,754.98 105.6,755.29 106,755.22 106.4,755.6 106.8,755.43 107.2,755.94 107.6,754.78 108,755.45 108.4,756.1 108.8,755.92 109.2,754.87 109.6,756.08 110,755.57 110.4,756.14 110.8,756.14 111.2,756.72 111.6,756.17 112,755.09 112.4,755.39 112.8,756.46 113.2,755.97 113.6,756.93 114,756.29 114.4,755.82 114.8,756.78 115.2,755.71 115.6,754.99 116,757.51 116.4,754.96 116.8,756.29 117.2,756.15 117.6,755.75 118,754.55 118.4,756.08 118.8,754.64 119.2,754.83 119.6,755 120,755.9 120,755.71 120.4,756.09 120.8,755.32 121.2,755.4 121.6,754.8 122,755.27 122.4,755.7 122.8,755.45 123.2,755.84 123.6,755.19 124,755.14 124.4,755.58 124.8,755.57 125.2,756.05 125.6,755.74 126,756.41 126.4,755.33 126.8,755.51 127.2,754.9 127.6,755.56 128,755.78 128.4,755.04 128.8,755.57 129.2,755.96 129.6,755.67 130,755.3 130.4,755.98 130.8,755.51 131.2,755.62 131.6,756.12 132,756 132.4,754.97 132.8,754.95 133.2,755.41 133.6,755.14 134,754.03 134.4,755.98 134.8,755.36 135.2,755.78 135.6,754.64 136,756.11 136.4,754.94 136.4,755.12"/>
<polyline fill="none" stroke="#000" stroke-width="2" stroke-linejoin="round" stroke-linecap="round" points="148.5,756.62 148.9,757.47 149.3,754.55 149.7,754.98 150.1,754.38 150.5,759 150.9,758.2 151.3,758.57 151.7,757.28 152.1,757.34 152.5,755.42 152.9,758.7 153.3,755.77 153.7,755.98 154.1,756.45 154.5,756.05 154.9,757.76 155,756.89 155.3,757.02 155.7,757.03 156.1,758.44 156.5,756.67 156.9,757.22 157.3,757.87 157.7,755.96 158.1,756.71 158.5,757.82 158.9,758.59 159.3,757.36 159.6,756.3 159.7,761.89 160.1,780.56 160.3,789.97 160.5,801.31 160.9,823.97 161.2,840.93 161.3,842.51 161.7,848.4 161.8,849.96 162.1,846.95 162.4,843.92 162.5,843.05 162.9,839.03 163,838.03 163.3,834.57 163.7,830.06 164.1,825.59 164.4,822.12 164.5,820.72 164.9,817.08 165.3,812.76 165.7,808.81 165.8,807.97 166.1,805.37 166.5,802.34 166.9,798.96 167.3,795.51 167.7,792.16 168,789.95 168.1,790.16 168.5,787.28 168.9,787.11 169.3,783.98 169.7,782.68 170.1,779.62 170.5,778.64 170.9,775.93 171,773.41 171.3,777.04 171.7,773.69 172.1,773.45 172.5,773.73 172.9,771.8 173.3,771.22 173.7,770.26 174.1,768.46 174.5,770.28 174.5,769.21 174.9,767.86 175.3,768.49 175.7,767.65 176.1,766.12 176.5,766.91 176.9,766.65 177.3,766.84 177.7,766.68 178.1,766.43 178.5,764.47 178.9,765.77 179.3,764.66 179.7,765.6 180,763.5 180.1,762.87 180.5,764.28 180.9,766.87 181.3,765.88 181.7,764.69 182.1,766.97 182.5,764.3 182.9,764.19 183.3,765.13 183.7,764.4 184.1,763.85 184.5,763.68 184.9,763.84 185.3,764.78 185.7,762.16 186.1,762.67 186.5,764.7 186.9,765.72 187.3,761.4 187.7,763.73 188.1,764.58 188.5,762.37 188.9,762.04 189.3,763.85 189.7,762.21 190,761.83 190.1,762.19 190.5,761.84 190.9,760.19 191.3,763.54 191.7,764.39 192.1,763.22 192.5,762.63 192.9,763.31 193.3,762.58 193.7,761.12 194.1,761.08 194.5,762.47 194.9,761.67 195.3,760.4 195.7,760.11 196.1,762.17 196.5,759.68 196.9,762.24 197.3,761.22 197.7,760.03 198.1,761.02 198.5,761.23 198.9,761.36 199.3,761.25 199.7,762.42 200.1,761.95 200.5,760.76 200.9,761.07 201.3,760.23 201.3,760.39 201.7,761.19 202.1,758.91 202.5,761.23 202.9,761.07 203.3,760.43 203.7,759.07 204.1,759.78 204.5,759.71 204.9,760.35 205.3,757.98 205.7,760.05 206.1,760.69 206.5,759.36 206.9,759.45 207.3,761.47 207.7,763.25 208.1,761.21 208.5,761.19 208.9,760.55 209.3,760.92 209.7,761.01 210.1,759.26 210.5,760.85 210.9,761.01 211.3,759.49 211.7,760.23 212.1,761.16 212.5,760.83 212.9,759.92 213.3,761.7 213.7,760.65 214.1,758.64 214.5,757.05 214.9,758.22 215.3,758.79 215.6,758 215.7,758.15 216.1,759.58 216.5,758.54 216.9,758.8 217.3,756.14 217.5,757.24 217.7,757.9 218.1,755.05 218.5,756.83 218.9,752.79 219.3,752.06 219.7,752.78 220,748.46 220.1,751.42 220.5,749.03 220.9,749.07 221.3,749.75 221.7,749.55 222.1,750.12 222.5,749.1 222.9,748.66 223.3,747.84 223.4,748.98 223.7,746.55 224.1,749.45 224.5,748.86 224.9,749.94 225.3,749.94 225.7,747.46 226.1,749.73 226.5,748.51 226.9,748.8 227.3,749.92 227.7,750.03 228.1,750.28 228.5,749.82 228.9,750.4 229.3,749.32 229.7,749.35 230.1,750.25 230.5,748.62 230.9,749.47 231.3,750.43 231.7,749.78 232,749.09 232.1,749.74 232.5,750.7 232.9,748.85 233.3,748.26 233.7,749.75 234.1,748.82 234.5,749.56 234.9,749.56 235.3,749.32 235.7,750.02 236.1,749.93 236.5,748.92 236.9,751.46 237.3,752.03 237.7,750.4 238.1,750.88 238.5,751.98 238.9,749.39 239.3,749.88 239.7,750.87 240.1,751.21 240.5,751.66 240.6,751.34"/>
<polyline fill="none" stroke="#000" stroke-width="2" stroke-linejoin="round" stroke-linecap="round" points="254,775.5 254.4,774.44 254.8,773.13 255.2,774.47 255.6,774.34 256,774.34 256.4,772.77 256.8,774.02 257.2,774.11 257.6,773.63 258,775.48 258.4,776.82 258.8,774.82 259.2,774.59 259.6,775.62 260,773.82 260.4,775.39 260.8,772.1 261.2,773.15 261.6,775.33 262,774.31 262,773.56 262.4,774.6 262.8,773.69 263.2,773.65 263.6,771.89 264,772.76 264.4,772.8 264.8,771.61 265.2,769.22 265.6,771.58 266,775.06 266.4,767.47 266.8,769.49 267.2,770.26 267.6,770.58 268,771.13 268.4,770.68 268.8,770.78 269.2,770.81 269.6,767.83 270,768.34 270.4,767.48 270.8,768.63 270.8,767.25 271.2,780.07 271.6,792.29 271.7,794.99 272,802.88 272.4,813.62 272.8,823.92 272.8,824.04 273.2,829.64 273.4,832.28 273.6,830.03 274,826.09 274,825.96 274.4,821.93 274.6,820.14 274.8,817.92 275.2,814.24 275.6,809.7 276,805.54 276,805.9 276.4,803.81 276.8,801.81 277.2,798.19 277.6,795.98 278,793.97 278,797.58 278.4,790.66 278.8,792.33 279.2,790.47 279.6,788.04 280,787.99 280.4,787.19 280.5,786.22 280.8,786.86 281.2,787.5 281.6,787.24 282,784.54 282.4,784.28 282.8,783.92 283.2,783.89 283.4,783.01 283.6,783.32 284,782 284.4,778.32 284.8,781.44 285.2,779.2 285.6,780.77 286,779.37 286.4,780.45 286.8,778.64 287.2,778.68 287.6,775.37 288,779.28 288,777.28 288.4,776.49 288.8,777.64 289.2,776.62 289.6,775.66 290,775.78 290.4,774.5 290.8,772.59 291.2,772.39 291.6,774.82 292,774.31 292.4,773.4 292.8,772.61 293.2,773.45 293.6,773.33 294,771.94 294,773.05 294.4,772.37 294.8,770.03 295.2,771.66 295.6,769.1 296,766.95 296.4,770.55 296.8,768.8 297.2,771.87 297.6,767.16 298,769.64 298.4,768.14 298.8,768.78 299.2,766.7 299.6,771.45 300,767.02 300.4,769.41 300.8,766.34 301,764.53 301.2,765.36 301.6,767.87 302,764.58 302.4,765.18 302.8,766.45 303.2,765.52 303.6,763.02 304,763.52 304.4,766.03 304.8,762.45 305.2,764.21 305.6,762.91 306,760.7 306.4,762.75 306.8,761.39 307.2,761.94 307.6,760.52 308,762.1 308.3,761.28 308.4,762.2 308.8,759.36 309.2,760.28 309.6,761.91 310,762.46 310.4,762.06 310.8,761.38 311.2,759.27 311.6,760.19 312,760.76 312.4,759.91 312.8,760.51 313.2,758.54 313.6,760.07 314,758.36 314.4,757.59 314.8,756.53 315.2,760.29 315.6,756.54 316,756.47 316.4,755.22 316.8,760.04 317.2,759.43 317.6,755.54 318,753.89 318,755.32 318.4,755.4 318.8,755.54 319.2,756.8 319.6,754.74 320,756.03 320.4,757.08 320.8,756.46 321.2,756.38 321.6,755.28 322,755.34 322.4,756.93 322.8,753.58 323.2,756.68 323.6,754.4 324,755.51 324.4,751.65 324.8,754.87 325.2,752.8 325.6,755.52 326,753.42 326.4,752.39 326.8,755.2 327.2,753.29 327.6,753.19 328,753.65 328,753.76 328.4,753.75 328.8,753.91 329.2,756.39 329.6,756.29 330,756.47 330.4,756.75 330.8,754.53 331.2,753.45 331.6,751.35 332,752.46 332.4,752.94 332.8,754.13 333.2,751.07 333.6,753.63 334,753.39 334.4,750.99 334.8,750.33 335.2,751.36 335.2,749.86 335.6,747.02 336,746.48 336.4,746.62 336.6,742.11 336.8,745.39 337.2,744.61 337.6,742.29 338,740.96 338,736.8 338.4,736.7 338.8,739.38 339.2,736.88 339.6,737.25 339.6,735.76 340,736.12 340.4,734.15 340.8,734.5 341.2,736.53 341.6,735.46 342,734.55 342.4,735.74 342.8,733.37 343.2,731.92 343.6,733.3 344,733.71 344.4,735.96 344.8,732.89 345.2,735.39 345.6,735.68 346,736 346.4,737 346.5,735.19"/>
<rect x="463" y="781.28" width="33" height="19.72" fill="#F7BF87" stroke="#000" stroke-width="2.3"/>
<rect x="515.7" y="778.86" width="32.7" height="22.14" fill="#E5601B" stroke="#000" stroke-width="1.7"/>
<rect x="568" y="784.66" width="32.4" height="16.34" fill="#F7BF87" stroke="#000" stroke-width="2.3"/>
<polyline fill="none" stroke="#000" stroke-width="1" stroke-linejoin="miter" stroke-linecap="round" points="479.8,718.36 532.3,728.64 583.8,762.76"/>
<polyline fill="none" stroke="#000" stroke-width="1" stroke-linejoin="miter" stroke-linecap="round" points="479.8,774.74 532.3,778.62 583.8,783.09"/>
<polyline fill="none" stroke="#000" stroke-width="1" stroke-linejoin="miter" stroke-linecap="round" points="479.8,781.88 532.3,775.23 583.8,785.03"/>
<polyline fill="none" stroke="#000" stroke-width="1" stroke-linejoin="miter" stroke-linecap="round" points="479.8,787.69 532.3,781.64 583.8,769.54"/>
<polyline fill="none" stroke="#000" stroke-width="1" stroke-linejoin="miter" stroke-linecap="round" points="479.8,789.87 532.3,777.28 583.8,772.57"/>
<polyline fill="none" stroke="#000" stroke-width="1" stroke-linejoin="miter" stroke-linecap="round" points="479.8,792.29 532.3,790.72 583.8,793.5"/>
<polyline fill="none" stroke="#000" stroke-width="1" stroke-linejoin="miter" stroke-linecap="round" points="479.8,793.74 532.3,784.66 583.8,789.75"/>
<polyline fill="none" stroke="#000" stroke-width="1" stroke-linejoin="miter" stroke-linecap="round" points="479.8,790.35 532.3,792.53 583.8,795.92"/>
<circle cx="479.8" cy="718.36" r="2.9"/>
<circle cx="532.3" cy="728.64" r="2.9"/>
<circle cx="583.8" cy="762.76" r="2.9"/>
<circle cx="479.8" cy="774.74" r="2.9"/>
<circle cx="532.3" cy="778.62" r="2.9"/>
<circle cx="583.8" cy="783.09" r="2.9"/>
<circle cx="479.8" cy="781.88" r="2.9"/>
<circle cx="532.3" cy="775.23" r="2.9"/>
<circle cx="583.8" cy="785.03" r="2.9"/>
<circle cx="479.8" cy="787.69" r="2.9"/>
<circle cx="532.3" cy="781.64" r="2.9"/>
<circle cx="583.8" cy="769.54" r="2.9"/>
<circle cx="479.8" cy="789.87" r="2.9"/>
<circle cx="532.3" cy="777.28" r="2.9"/>
<circle cx="583.8" cy="772.57" r="2.9"/>
<circle cx="479.8" cy="792.29" r="2.9"/>
<circle cx="532.3" cy="790.72" r="2.9"/>
<circle cx="583.8" cy="793.5" r="2.9"/>
<circle cx="479.8" cy="793.74" r="2.9"/>
<circle cx="532.3" cy="784.66" r="2.9"/>
<circle cx="583.8" cy="789.75" r="2.9"/>
<circle cx="479.8" cy="790.35" r="2.9"/>
<circle cx="532.3" cy="792.53" r="2.9"/>
<circle cx="583.8" cy="795.92" r="2.9"/>
<line x1="445.9" y1="703.1" x2="445.9" y2="826.3" stroke="#000" stroke-width="2.2"/>
<line x1="444.8" y1="801" x2="618" y2="801" stroke="#000" stroke-width="2.2"/>
<line x1="437.9" y1="825.2" x2="445.9" y2="825.2" stroke="#000" stroke-width="2.2"/>
<text x="434.7" y="832.2" font-size="19.3" text-anchor="end">-200</text>
<line x1="437.9" y1="801" x2="445.9" y2="801" stroke="#000" stroke-width="2.2"/>
<text x="434.7" y="808" font-size="19.3" text-anchor="end">0</text>
<line x1="437.9" y1="776.8" x2="445.9" y2="776.8" stroke="#000" stroke-width="2.2"/>
<text x="434.7" y="783.8" font-size="19.3" text-anchor="end">200</text>
<line x1="437.9" y1="752.6" x2="445.9" y2="752.6" stroke="#000" stroke-width="2.2"/>
<text x="434.7" y="759.6" font-size="19.3" text-anchor="end">400</text>
<line x1="437.9" y1="728.4" x2="445.9" y2="728.4" stroke="#000" stroke-width="2.2"/>
<text x="434.7" y="735.4" font-size="19.3" text-anchor="end">600</text>
<line x1="437.9" y1="704.2" x2="445.9" y2="704.2" stroke="#000" stroke-width="2.2"/>
<text x="434.7" y="711.2" font-size="19.3" text-anchor="end">800</text>
<text x="476.8" y="822.6" font-size="19.3" text-anchor="middle">ctrl</text>
<text x="531.3" y="822.6" font-size="19.3" text-anchor="middle">APETx2</text>
<text x="595.2" y="822.6" font-size="19.3" text-anchor="middle">wash</text>
<text x="389.4" y="765.5" font-size="21.8" text-anchor="middle" transform="rotate(-90 389.4 765.5)"><tspan font-style="italic">I</tspan> (pA)</text>
<polyline fill="none" stroke="#000" stroke-width="2.4" stroke-linejoin="miter" points="479.8,701 479.8,693.4 534.4,693.4 534.4,701"/>
<text x="510" y="688.2" font-size="16.5" text-anchor="middle">n.s.</text>
</g>
<g id="panel-f">
<text x="0.4" y="890.1" font-size="32.5" font-weight="bold">f</text>
<defs>
<clipPath id="fclip"><rect x="14.2" y="909.6" width="232.6" height="174.2"/></clipPath>
<filter id="fb1" x="-20%" y="-20%" width="140%" height="140%"><feGaussianBlur stdDeviation="0.9"/></filter>
<filter id="fb2" x="-30%" y="-30%" width="160%" height="160%"><feGaussianBlur stdDeviation="1.8"/></filter>
<filter id="fb07" x="-20%" y="-20%" width="140%" height="140%"><feGaussianBlur stdDeviation="0.7"/></filter>
<filter id="fb05" x="-20%" y="-20%" width="140%" height="140%"><feGaussianBlur stdDeviation="0.45"/></filter>
<filter id="grain" x="0" y="0" width="100%" height="100%">
<feTurbulence type="fractalNoise" baseFrequency="0.55" numOctaves="2" seed="7" result="n"/>
<feColorMatrix in="n" type="matrix" values="0 0 0 0 0.12  0 0 0 0 0.10  0 0 0 0 0.06  0.9 0 0 0 -0.38"/>
</filter>
<filter id="mott" x="-10%" y="-10%" width="120%" height="120%" color-interpolation-filters="sRGB">
<feGaussianBlur in="SourceGraphic" stdDeviation="0.75" result="b"/>
<feTurbulence type="fractalNoise" baseFrequency="0.26" numOctaves="2" seed="5" result="n"/>
<feColorMatrix in="n" type="matrix" values="1.5 0 0 0 -0.25  1.5 0 0 0 -0.25  1.4 0 0 0 -0.2  0 0 0 0 1" result="g"/>
<feComposite in="b" in2="g" operator="arithmetic" k1="0" k2="1" k3="0.62" k4="-0.30" result="m"/>
<feComposite in="m" in2="b" operator="in" result="c"/><feGaussianBlur in="c" stdDeviation="0.35"/>
</filter>
<radialGradient id="fvig" cx="0.55" cy="0.45" r="0.75">
<stop offset="0" stop-color="#74644B" stop-opacity="0.55"/><stop offset="1" stop-color="#584C38" stop-opacity="0.5"/>
</radialGradient>
</defs>
<g clip-path="url(#fclip)">
<rect x="14.2" y="909.6" width="232.6" height="174.2" fill="#6D5D44"/>
<rect x="14.2" y="909.6" width="232.6" height="174.2" fill="url(#fvig)"/>
<rect x="14.2" y="909.6" width="232.6" height="174.2" filter="url(#grain)" opacity="0.5"/>
<g filter="url(#fb07)">
<circle cx="108.8" cy="910.6" r="4.5" fill="none" stroke="#4A3F2E" stroke-width="1.6" opacity="0.5"/>
<circle cx="108.8" cy="910.6" r="2.8" fill="#6A5A43" stroke="#E9D3C0" stroke-width="1.6" opacity="0.95"/>
<circle cx="109.1" cy="910.8" r="1.05" fill="#F3E0D0" opacity="0.85"/>
<circle cx="92.4" cy="917.6" r="4.5" fill="none" stroke="#4A3F2E" stroke-width="1.6" opacity="0.5"/>
<circle cx="92.4" cy="917.6" r="2.8" fill="#5E523D" stroke="#928368" stroke-width="1.2" opacity="0.75"/>
<circle cx="92.7" cy="917.8" r="0.65" fill="#AD9B7F" opacity="0.85"/>
<circle cx="51.3" cy="929.2" r="4.7" fill="none" stroke="#4A3F2E" stroke-width="1.6" opacity="0.5"/>
<circle cx="51.3" cy="929.2" r="3" fill="#5A4E3A" stroke="#BBA689" stroke-width="1.4" opacity="0.9"/>
<circle cx="51.6" cy="929.4" r="0.85" fill="#CBB79D" opacity="0.85"/>
<circle cx="45.9" cy="950.5" r="4.3" fill="none" stroke="#4A3F2E" stroke-width="1.6" opacity="0.5"/>
<circle cx="45.9" cy="950.5" r="2.6" fill="#5A4E3A" stroke="#BBA689" stroke-width="1.4" opacity="0.9"/>
<circle cx="46.2" cy="950.7" r="0.85" fill="#CBB79D" opacity="0.85"/>
<circle cx="59.4" cy="952.3" r="4.7" fill="none" stroke="#4A3F2E" stroke-width="1.6" opacity="0.5"/>
<circle cx="59.4" cy="952.3" r="3" fill="#6A5A43" stroke="#E9D3C0" stroke-width="1.6" opacity="0.95"/>
<circle cx="59.7" cy="952.5" r="1.05" fill="#F3E0D0" opacity="0.85"/>
<circle cx="67.5" cy="950.2" r="4.5" fill="none" stroke="#4A3F2E" stroke-width="1.6" opacity="0.5"/>
<circle cx="67.5" cy="950.2" r="2.8" fill="#6A5A43" stroke="#E9D3C0" stroke-width="1.6" opacity="0.95"/>
<circle cx="67.8" cy="950.4" r="1.05" fill="#F3E0D0" opacity="0.85"/>
<circle cx="71.5" cy="946.2" r="4.9" fill="none" stroke="#4A3F2E" stroke-width="1.6" opacity="0.5"/>
<circle cx="71.5" cy="946.2" r="3.2" fill="#6A5A43" stroke="#E9D3C0" stroke-width="1.6" opacity="0.95"/>
<circle cx="71.8" cy="946.4" r="1.05" fill="#F3E0D0" opacity="0.85"/>
<circle cx="84.6" cy="946.7" r="4.7" fill="none" stroke="#4A3F2E" stroke-width="1.6" opacity="0.5"/>
<circle cx="84.6" cy="946.7" r="3" fill="#5A4E3A" stroke="#BBA689" stroke-width="1.4" opacity="0.9"/>
<circle cx="84.9" cy="946.9" r="0.85" fill="#CBB79D" opacity="0.85"/>
<circle cx="106" cy="948.6" r="4.9" fill="none" stroke="#4A3F2E" stroke-width="1.6" opacity="0.5"/>
<circle cx="106" cy="948.6" r="3.2" fill="#5A4E3A" stroke="#BBA689" stroke-width="1.4" opacity="0.9"/>
<circle cx="106.3" cy="948.8" r="0.85" fill="#CBB79D" opacity="0.85"/>
<circle cx="88.5" cy="963" r="4.3" fill="none" stroke="#4A3F2E" stroke-width="1.6" opacity="0.5"/>
<circle cx="88.5" cy="963" r="2.6" fill="#5E523D" stroke="#928368" stroke-width="1.2" opacity="0.75"/>
<circle cx="88.8" cy="963.2" r="0.65" fill="#AD9B7F" opacity="0.85"/>
<circle cx="91.4" cy="973.8" r="4.3" fill="none" stroke="#4A3F2E" stroke-width="1.6" opacity="0.5"/>
<circle cx="91.4" cy="973.8" r="2.6" fill="#5E523D" stroke="#928368" stroke-width="1.2" opacity="0.75"/>
<circle cx="91.7" cy="974" r="0.65" fill="#AD9B7F" opacity="0.85"/>
<circle cx="42.6" cy="979.6" r="4.7" fill="none" stroke="#4A3F2E" stroke-width="1.6" opacity="0.5"/>
<circle cx="42.6" cy="979.6" r="3" fill="#6A5A43" stroke="#E9D3C0" stroke-width="1.6" opacity="0.95"/>
<circle cx="42.9" cy="979.8" r="1.05" fill="#F3E0D0" opacity="0.85"/>
<circle cx="89.5" cy="990.3" r="4.3" fill="none" stroke="#4A3F2E" stroke-width="1.6" opacity="0.5"/>
<circle cx="89.5" cy="990.3" r="2.6" fill="#6A5A43" stroke="#E9D3C0" stroke-width="1.6" opacity="0.95"/>
<circle cx="89.8" cy="990.5" r="1.05" fill="#F3E0D0" opacity="0.85"/>
<circle cx="57.5" cy="994" r="4.5" fill="none" stroke="#4A3F2E" stroke-width="1.6" opacity="0.5"/>
<circle cx="57.5" cy="994" r="2.8" fill="#5E523D" stroke="#928368" stroke-width="1.2" opacity="0.75"/>
<circle cx="57.8" cy="994.2" r="0.65" fill="#AD9B7F" opacity="0.85"/>
<circle cx="69" cy="989.3" r="4.1" fill="none" stroke="#4A3F2E" stroke-width="1.6" opacity="0.5"/>
<circle cx="69" cy="989.3" r="2.4" fill="#5E523D" stroke="#928368" stroke-width="1.2" opacity="0.75"/>
<circle cx="69.3" cy="989.5" r="0.65" fill="#AD9B7F" opacity="0.85"/>
<circle cx="86.6" cy="1005.8" r="4.5" fill="none" stroke="#4A3F2E" stroke-width="1.6" opacity="0.5"/>
<circle cx="86.6" cy="1005.8" r="2.8" fill="#5E523D" stroke="#928368" stroke-width="1.2" opacity="0.75"/>
<circle cx="86.9" cy="1006" r="0.65" fill="#AD9B7F" opacity="0.85"/>
<circle cx="28.4" cy="1006.7" r="4.3" fill="none" stroke="#4A3F2E" stroke-width="1.6" opacity="0.5"/>
<circle cx="28.4" cy="1006.7" r="2.6" fill="#5E523D" stroke="#928368" stroke-width="1.2" opacity="0.75"/>
<circle cx="28.7" cy="1006.9" r="0.65" fill="#AD9B7F" opacity="0.85"/>
<circle cx="62.3" cy="1023.2" r="4.7" fill="none" stroke="#4A3F2E" stroke-width="1.6" opacity="0.5"/>
<circle cx="62.3" cy="1023.2" r="3" fill="#5A4E3A" stroke="#BBA689" stroke-width="1.4" opacity="0.9"/>
<circle cx="62.6" cy="1023.4" r="0.85" fill="#CBB79D" opacity="0.85"/>
<circle cx="68.1" cy="1032" r="4.3" fill="none" stroke="#4A3F2E" stroke-width="1.6" opacity="0.5"/>
<circle cx="68.1" cy="1032" r="2.6" fill="#6A5A43" stroke="#E9D3C0" stroke-width="1.6" opacity="0.95"/>
<circle cx="68.4" cy="1032.2" r="1.05" fill="#F3E0D0" opacity="0.85"/>
<circle cx="80.7" cy="1034.8" r="4.7" fill="none" stroke="#4A3F2E" stroke-width="1.6" opacity="0.5"/>
<circle cx="80.7" cy="1034.8" r="3" fill="#5E523D" stroke="#928368" stroke-width="1.2" opacity="0.75"/>
<circle cx="81" cy="1035" r="0.65" fill="#AD9B7F" opacity="0.85"/>
<circle cx="103" cy="1035.8" r="6.9" fill="none" stroke="#4A3F2E" stroke-width="1.6" opacity="0.5"/>
<circle cx="103" cy="1035.8" r="5.2" fill="#5A4E3A" stroke="#BBA689" stroke-width="1.4" opacity="0.9"/>
<circle cx="103.3" cy="1036" r="0.85" fill="#CBB79D" opacity="0.85"/>
<circle cx="22.6" cy="1032" r="4.5" fill="none" stroke="#4A3F2E" stroke-width="1.6" opacity="0.5"/>
<circle cx="22.6" cy="1032" r="2.8" fill="#5E523D" stroke="#928368" stroke-width="1.2" opacity="0.75"/>
<circle cx="22.9" cy="1032.2" r="0.65" fill="#AD9B7F" opacity="0.85"/>
<circle cx="24.5" cy="1048.4" r="4.5" fill="none" stroke="#4A3F2E" stroke-width="1.6" opacity="0.5"/>
<circle cx="24.5" cy="1048.4" r="2.8" fill="#5A4E3A" stroke="#BBA689" stroke-width="1.4" opacity="0.9"/>
<circle cx="24.8" cy="1048.6" r="0.85" fill="#CBB79D" opacity="0.85"/>
<circle cx="43.9" cy="1053.3" r="4.1" fill="none" stroke="#4A3F2E" stroke-width="1.6" opacity="0.5"/>
<circle cx="43.9" cy="1053.3" r="2.4" fill="#5E523D" stroke="#928368" stroke-width="1.2" opacity="0.75"/>
<circle cx="44.2" cy="1053.5" r="0.65" fill="#AD9B7F" opacity="0.85"/>
<circle cx="28.4" cy="1060" r="4.1" fill="none" stroke="#4A3F2E" stroke-width="1.6" opacity="0.5"/>
<circle cx="28.4" cy="1060" r="2.4" fill="#5E523D" stroke="#928368" stroke-width="1.2" opacity="0.75"/>
<circle cx="28.7" cy="1060.2" r="0.65" fill="#AD9B7F" opacity="0.85"/>
<circle cx="81.7" cy="1045.5" r="4.1" fill="none" stroke="#4A3F2E" stroke-width="1.6" opacity="0.5"/>
<circle cx="81.7" cy="1045.5" r="2.4" fill="#5E523D" stroke="#928368" stroke-width="1.2" opacity="0.75"/>
<circle cx="82" cy="1045.7" r="0.65" fill="#AD9B7F" opacity="0.85"/>
<circle cx="71" cy="1073.6" r="4.3" fill="none" stroke="#4A3F2E" stroke-width="1.6" opacity="0.5"/>
<circle cx="71" cy="1073.6" r="2.6" fill="#5A4E3A" stroke="#BBA689" stroke-width="1.4" opacity="0.9"/>
<circle cx="71.3" cy="1073.8" r="0.85" fill="#CBB79D" opacity="0.85"/>
<circle cx="80.7" cy="1074.8" r="4.5" fill="none" stroke="#4A3F2E" stroke-width="1.6" opacity="0.5"/>
<circle cx="80.7" cy="1074.8" r="2.8" fill="#6A5A43" stroke="#E9D3C0" stroke-width="1.6" opacity="0.95"/>
<circle cx="81" cy="1075" r="1.05" fill="#F3E0D0" opacity="0.85"/>
<circle cx="87.3" cy="1070.6" r="4.7" fill="none" stroke="#4A3F2E" stroke-width="1.6" opacity="0.5"/>
<circle cx="87.3" cy="1070.6" r="3" fill="#6A5A43" stroke="#E9D3C0" stroke-width="1.6" opacity="0.95"/>
<circle cx="87.6" cy="1070.8" r="1.05" fill="#F3E0D0" opacity="0.85"/>
<circle cx="94.3" cy="1075.5" r="4.3" fill="none" stroke="#4A3F2E" stroke-width="1.6" opacity="0.5"/>
<circle cx="94.3" cy="1075.5" r="2.6" fill="#5E523D" stroke="#928368" stroke-width="1.2" opacity="0.75"/>
<circle cx="94.6" cy="1075.7" r="0.65" fill="#AD9B7F" opacity="0.85"/>
<circle cx="44.9" cy="1076.5" r="4.1" fill="none" stroke="#4A3F2E" stroke-width="1.6" opacity="0.5"/>
<circle cx="44.9" cy="1076.5" r="2.4" fill="#5E523D" stroke="#928368" stroke-width="1.2" opacity="0.75"/>
<circle cx="45.2" cy="1076.7" r="0.65" fill="#AD9B7F" opacity="0.85"/>
<circle cx="100" cy="1064" r="4.1" fill="none" stroke="#4A3F2E" stroke-width="1.6" opacity="0.5"/>
<circle cx="100" cy="1064" r="2.4" fill="#5E523D" stroke="#928368" stroke-width="1.2" opacity="0.75"/>
<circle cx="100.3" cy="1064.2" r="0.65" fill="#AD9B7F" opacity="0.85"/>
<circle cx="188" cy="917.6" r="4.7" fill="none" stroke="#4A3F2E" stroke-width="1.6" opacity="0.5"/>
<circle cx="188" cy="917.6" r="3" fill="#5E523D" stroke="#928368" stroke-width="1.2" opacity="0.75"/>
<circle cx="188.3" cy="917.8" r="0.65" fill="#AD9B7F" opacity="0.85"/>
<circle cx="219.8" cy="921.3" r="4.2" fill="none" stroke="#4A3F2E" stroke-width="1.4" opacity="0.45"/>
<circle cx="219.8" cy="921.3" r="2.7" fill="#E6C3AE" stroke="#F5DFD0" stroke-width="1.1"/>
<circle cx="220.2" cy="921.6" r="0.94" fill="#C9A38D" opacity="0.7"/>
<circle cx="225.8" cy="924.8" r="4.3" fill="none" stroke="#4A3F2E" stroke-width="1.4" opacity="0.45"/>
<circle cx="225.8" cy="924.8" r="2.8" fill="#E6C3AE" stroke="#F5DFD0" stroke-width="1.1"/>
<circle cx="226.2" cy="925.1" r="0.98" fill="#C9A38D" opacity="0.7"/>
<circle cx="177" cy="942.8" r="5.3" fill="none" stroke="#4A3F2E" stroke-width="1.6" opacity="0.5"/>
<circle cx="177" cy="942.8" r="3.6" fill="#6A5A43" stroke="#E9D3C0" stroke-width="1.6" opacity="0.95"/>
<circle cx="177.3" cy="943" r="1.05" fill="#F3E0D0" opacity="0.85"/>
<circle cx="175.8" cy="951.5" r="3.9" fill="none" stroke="#4A3F2E" stroke-width="1.6" opacity="0.5"/>
<circle cx="175.8" cy="951.5" r="2.2" fill="#5E523D" stroke="#928368" stroke-width="1.2" opacity="0.75"/>
<circle cx="176.1" cy="951.7" r="0.65" fill="#AD9B7F" opacity="0.85"/>
<circle cx="198.3" cy="961.2" r="4.7" fill="none" stroke="#4A3F2E" stroke-width="1.6" opacity="0.5"/>
<circle cx="198.3" cy="961.2" r="3" fill="#5A4E3A" stroke="#BBA689" stroke-width="1.4" opacity="0.9"/>
<circle cx="198.6" cy="961.4" r="0.85" fill="#CBB79D" opacity="0.85"/>
<circle cx="185" cy="971.9" r="4.5" fill="none" stroke="#4A3F2E" stroke-width="1.6" opacity="0.5"/>
<circle cx="185" cy="971.9" r="2.8" fill="#5A4E3A" stroke="#BBA689" stroke-width="1.4" opacity="0.9"/>
<circle cx="185.3" cy="972.1" r="0.85" fill="#CBB79D" opacity="0.85"/>
<circle cx="177.3" cy="982.5" r="4.7" fill="none" stroke="#4A3F2E" stroke-width="1.6" opacity="0.5"/>
<circle cx="177.3" cy="982.5" r="3" fill="#5A4E3A" stroke="#BBA689" stroke-width="1.4" opacity="0.9"/>
<circle cx="177.6" cy="982.7" r="0.85" fill="#CBB79D" opacity="0.85"/>
<circle cx="204.5" cy="982.5" r="4.9" fill="none" stroke="#4A3F2E" stroke-width="1.6" opacity="0.5"/>
<circle cx="204.5" cy="982.5" r="3.2" fill="#6A5A43" stroke="#E9D3C0" stroke-width="1.6" opacity="0.95"/>
<circle cx="204.8" cy="982.7" r="1.05" fill="#F3E0D0" opacity="0.85"/>
<circle cx="154.5" cy="977.7" r="4.7" fill="none" stroke="#4A3F2E" stroke-width="1.6" opacity="0.5"/>
<circle cx="154.5" cy="977.7" r="3" fill="#6A5A43" stroke="#E9D3C0" stroke-width="1.6" opacity="0.95"/>
<circle cx="154.8" cy="977.9" r="1.05" fill="#F3E0D0" opacity="0.85"/>
<circle cx="205.4" cy="995" r="4.3" fill="none" stroke="#4A3F2E" stroke-width="1.6" opacity="0.5"/>
<circle cx="205.4" cy="995" r="2.6" fill="#5E523D" stroke="#928368" stroke-width="1.2" opacity="0.75"/>
<circle cx="205.7" cy="995.2" r="0.65" fill="#AD9B7F" opacity="0.85"/>
<circle cx="229.7" cy="999" r="4.9" fill="none" stroke="#4A3F2E" stroke-width="1.6" opacity="0.5"/>
<circle cx="229.7" cy="999" r="3.2" fill="#6A5A43" stroke="#E9D3C0" stroke-width="1.6" opacity="0.95"/>
<circle cx="230" cy="999.2" r="1.05" fill="#F3E0D0" opacity="0.85"/>
<circle cx="220" cy="1005.8" r="4.3" fill="none" stroke="#4A3F2E" stroke-width="1.6" opacity="0.5"/>
<circle cx="220" cy="1005.8" r="2.6" fill="#5E523D" stroke="#928368" stroke-width="1.2" opacity="0.75"/>
<circle cx="220.3" cy="1006" r="0.65" fill="#AD9B7F" opacity="0.85"/>
<circle cx="203.5" cy="1012.6" r="4.5" fill="none" stroke="#4A3F2E" stroke-width="1.6" opacity="0.5"/>
<circle cx="203.5" cy="1012.6" r="2.8" fill="#5E523D" stroke="#928368" stroke-width="1.2" opacity="0.75"/>
<circle cx="203.8" cy="1012.8" r="0.65" fill="#AD9B7F" opacity="0.85"/>
<circle cx="196.7" cy="1027" r="4.5" fill="none" stroke="#4A3F2E" stroke-width="1.6" opacity="0.5"/>
<circle cx="196.7" cy="1027" r="2.8" fill="#5E523D" stroke="#928368" stroke-width="1.2" opacity="0.75"/>
<circle cx="197" cy="1027.2" r="0.65" fill="#AD9B7F" opacity="0.85"/>
<circle cx="144.4" cy="1003.8" r="4.5" fill="none" stroke="#4A3F2E" stroke-width="1.6" opacity="0.5"/>
<circle cx="144.4" cy="1003.8" r="2.8" fill="#5E523D" stroke="#928368" stroke-width="1.2" opacity="0.75"/>
<circle cx="144.7" cy="1004" r="0.65" fill="#AD9B7F" opacity="0.85"/>
<circle cx="140" cy="1000.5" r="4.1" fill="none" stroke="#4A3F2E" stroke-width="1.6" opacity="0.5"/>
<circle cx="140" cy="1000.5" r="2.4" fill="#5E523D" stroke="#928368" stroke-width="1.2" opacity="0.75"/>
<circle cx="140.3" cy="1000.7" r="0.65" fill="#AD9B7F" opacity="0.85"/>
<circle cx="181.2" cy="1042.6" r="4.3" fill="none" stroke="#4A3F2E" stroke-width="1.6" opacity="0.5"/>
<circle cx="181.2" cy="1042.6" r="2.6" fill="#5E523D" stroke="#928368" stroke-width="1.2" opacity="0.75"/>
<circle cx="181.5" cy="1042.8" r="0.65" fill="#AD9B7F" opacity="0.85"/>
<circle cx="192.8" cy="1044.5" r="4.3" fill="none" stroke="#4A3F2E" stroke-width="1.6" opacity="0.5"/>
<circle cx="192.8" cy="1044.5" r="2.6" fill="#5A4E3A" stroke="#BBA689" stroke-width="1.4" opacity="0.9"/>
<circle cx="193.1" cy="1044.7" r="0.85" fill="#CBB79D" opacity="0.85"/>
<circle cx="183" cy="1049.4" r="4.3" fill="none" stroke="#4A3F2E" stroke-width="1.6" opacity="0.5"/>
<circle cx="183" cy="1049.4" r="2.6" fill="#5E523D" stroke="#928368" stroke-width="1.2" opacity="0.75"/>
<circle cx="183.3" cy="1049.6" r="0.65" fill="#AD9B7F" opacity="0.85"/>
<circle cx="159" cy="1047.4" r="4.1" fill="none" stroke="#4A3F2E" stroke-width="1.6" opacity="0.5"/>
<circle cx="159" cy="1047.4" r="2.4" fill="#5E523D" stroke="#928368" stroke-width="1.2" opacity="0.75"/>
<circle cx="159.3" cy="1047.6" r="0.65" fill="#AD9B7F" opacity="0.85"/>
<circle cx="159" cy="1053.3" r="4.1" fill="none" stroke="#4A3F2E" stroke-width="1.6" opacity="0.5"/>
<circle cx="159" cy="1053.3" r="2.4" fill="#5E523D" stroke="#928368" stroke-width="1.2" opacity="0.75"/>
<circle cx="159.3" cy="1053.5" r="0.65" fill="#AD9B7F" opacity="0.85"/>
<circle cx="222" cy="1041.6" r="4.1" fill="none" stroke="#4A3F2E" stroke-width="1.6" opacity="0.5"/>
<circle cx="222" cy="1041.6" r="2.4" fill="#5E523D" stroke="#928368" stroke-width="1.2" opacity="0.75"/>
<circle cx="222.3" cy="1041.8" r="0.65" fill="#AD9B7F" opacity="0.85"/>
<circle cx="222" cy="1054.2" r="4.5" fill="none" stroke="#4A3F2E" stroke-width="1.6" opacity="0.5"/>
<circle cx="222" cy="1054.2" r="2.8" fill="#5A4E3A" stroke="#BBA689" stroke-width="1.4" opacity="0.9"/>
<circle cx="222.3" cy="1054.4" r="0.85" fill="#CBB79D" opacity="0.85"/>
<circle cx="162.8" cy="1064" r="3.9" fill="none" stroke="#4A3F2E" stroke-width="1.6" opacity="0.5"/>
<circle cx="162.8" cy="1064" r="2.2" fill="#5E523D" stroke="#928368" stroke-width="1.2" opacity="0.75"/>
<circle cx="163.1" cy="1064.2" r="0.65" fill="#AD9B7F" opacity="0.85"/>
<circle cx="170.5" cy="1075.5" r="4.3" fill="none" stroke="#4A3F2E" stroke-width="1.6" opacity="0.5"/>
<circle cx="170.5" cy="1075.5" r="2.6" fill="#5E523D" stroke="#928368" stroke-width="1.2" opacity="0.75"/>
<circle cx="170.8" cy="1075.7" r="0.65" fill="#AD9B7F" opacity="0.85"/>
<circle cx="244" cy="1071.7" r="4.9" fill="none" stroke="#4A3F2E" stroke-width="1.6" opacity="0.5"/>
<circle cx="244" cy="1071.7" r="3.2" fill="#6A5A43" stroke="#E9D3C0" stroke-width="1.6" opacity="0.95"/>
<circle cx="244.3" cy="1071.9" r="1.05" fill="#F3E0D0" opacity="0.85"/>
<circle cx="150.5" cy="957" r="4.1" fill="none" stroke="#4A3F2E" stroke-width="1.6" opacity="0.5"/>
<circle cx="150.5" cy="957" r="2.4" fill="#5E523D" stroke="#928368" stroke-width="1.2" opacity="0.75"/>
<circle cx="150.8" cy="957.2" r="0.65" fill="#AD9B7F" opacity="0.85"/>
<circle cx="148" cy="966" r="4.1" fill="none" stroke="#4A3F2E" stroke-width="1.6" opacity="0.5"/>
<circle cx="148" cy="966" r="2.4" fill="#5E523D" stroke="#928368" stroke-width="1.2" opacity="0.75"/>
<circle cx="148.3" cy="966.2" r="0.65" fill="#AD9B7F" opacity="0.85"/>
<circle cx="101" cy="1052" r="3.3" fill="none" stroke="#4A3F2E" stroke-width="1.6" opacity="0.5"/>
<circle cx="101" cy="1052" r="1.6" fill="#5E523D" stroke="#928368" stroke-width="1.2" opacity="0.75"/>
<circle cx="101.3" cy="1052.2" r="0.65" fill="#AD9B7F" opacity="0.85"/>
<circle cx="162.09" cy="916.81" r="0.74" fill="#40372A" opacity="0.55"/>
<circle cx="67.78" cy="1036.47" r="0.94" fill="#40372A" opacity="0.55"/>
<circle cx="219.37" cy="927.22" r="0.81" fill="#40372A" opacity="0.55"/>
<circle cx="23.95" cy="949.37" r="0.85" fill="#40372A" opacity="0.55"/>
<circle cx="23.21" cy="946.04" r="0.92" fill="#40372A" opacity="0.55"/>
<circle cx="140.68" cy="949.68" r="0.89" fill="#40372A" opacity="0.55"/>
<circle cx="200.62" cy="913.69" r="1" fill="#40372A" opacity="0.55"/>
<circle cx="175.4" cy="969.83" r="0.68" fill="#40372A" opacity="0.55"/>
<circle cx="234.1" cy="969.22" r="0.65" fill="#40372A" opacity="0.55"/>
<circle cx="39.12" cy="1055.15" r="0.9" fill="#40372A" opacity="0.55"/>
<circle cx="200.1" cy="1035.34" r="0.87" fill="#40372A" opacity="0.55"/>
<circle cx="237.71" cy="976.27" r="0.88" fill="#40372A" opacity="0.55"/>
<circle cx="205.14" cy="1016.64" r="1.03" fill="#40372A" opacity="0.55"/>
<circle cx="148.03" cy="1031.11" r="0.62" fill="#40372A" opacity="0.55"/>
<circle cx="68.84" cy="961.28" r="0.64" fill="#40372A" opacity="0.55"/>
<circle cx="69.95" cy="929.59" r="0.74" fill="#40372A" opacity="0.55"/>
<circle cx="161.25" cy="973.96" r="0.79" fill="#40372A" opacity="0.55"/>
<circle cx="64.67" cy="957.51" r="1.07" fill="#40372A" opacity="0.55"/>
<circle cx="164.04" cy="1015.06" r="0.69" fill="#40372A" opacity="0.55"/>
<circle cx="182.42" cy="940.08" r="0.79" fill="#40372A" opacity="0.55"/>
<circle cx="241.43" cy="1020.25" r="0.88" fill="#40372A" opacity="0.55"/>
<circle cx="172.33" cy="1054.37" r="0.99" fill="#40372A" opacity="0.55"/>
<circle cx="69.1" cy="918" r="0.76" fill="#40372A" opacity="0.55"/>
<circle cx="77.87" cy="948.09" r="1.07" fill="#40372A" opacity="0.55"/>
<circle cx="215.78" cy="965.53" r="0.93" fill="#40372A" opacity="0.55"/>
<circle cx="106.85" cy="1066.43" r="0.83" fill="#40372A" opacity="0.55"/>
<circle cx="77.22" cy="954.08" r="0.88" fill="#40372A" opacity="0.55"/>
<circle cx="76.74" cy="1010.93" r="1.05" fill="#40372A" opacity="0.55"/>
<circle cx="107.7" cy="949.49" r="1.1" fill="#40372A" opacity="0.55"/>
<circle cx="132.66" cy="927.89" r="0.62" fill="#40372A" opacity="0.55"/>
<circle cx="42.05" cy="1018.14" r="1" fill="#40372A" opacity="0.55"/>
<circle cx="112.86" cy="923.29" r="0.79" fill="#40372A" opacity="0.55"/>
<circle cx="242.92" cy="1001.6" r="1.09" fill="#40372A" opacity="0.55"/>
<circle cx="212.25" cy="914.53" r="0.96" fill="#40372A" opacity="0.55"/>
<circle cx="171.68" cy="1002.92" r="0.73" fill="#40372A" opacity="0.55"/>
<circle cx="162.44" cy="931.36" r="0.82" fill="#40372A" opacity="0.55"/>
<circle cx="120.01" cy="1073.03" r="1.04" fill="#40372A" opacity="0.55"/>
<circle cx="76.88" cy="996.8" r="0.69" fill="#40372A" opacity="0.55"/>
<path d="M73.5 1019 q3 4 4.5 8.5" stroke="#D9C4AE" stroke-width="1.6" fill="none" stroke-linecap="round"/>
<path d="M52 963 q6 -3 11 -5" stroke="#B9A48A" stroke-width="1.4" fill="none" stroke-linecap="round"/>
<path d="M168 920 q4 3 6 7" stroke="#A8957C" stroke-width="1.3" fill="none" stroke-linecap="round"/>
</g>
<ellipse cx="128.3" cy="981.5" rx="26.2" ry="26.2" fill="#463C2B" opacity="0.5" filter="url(#fb2)"/>
<g fill="#E4BBA5" filter="url(#mott)"><ellipse cx="128.3" cy="981.5" rx="21.6" ry="21.6"/><circle cx="148.39" cy="979.73" r="5.2"/><circle cx="147.54" cy="983.48" r="4.21"/><circle cx="144.25" cy="987.48" r="5.04"/><circle cx="145.63" cy="988.22" r="5.17"/><circle cx="143.72" cy="994.68" r="2.82"/><circle cx="142.94" cy="998.46" r="3.46"/><circle cx="137.07" cy="997.25" r="2.9"/><circle cx="135.91" cy="997.97" r="5.46"/><circle cx="134.25" cy="997.81" r="4"/><circle cx="131.97" cy="1000.84" r="4.05"/><circle cx="128.74" cy="1000.17" r="3.47"/><circle cx="124.96" cy="998.73" r="3.63"/><circle cx="119.64" cy="999.73" r="4.38"/><circle cx="119.5" cy="999.81" r="5.61"/><circle cx="116.53" cy="998.94" r="3.75"/><circle cx="113.97" cy="992.95" r="5.45"/><circle cx="112.13" cy="990.02" r="4.7"/><circle cx="109.29" cy="989.13" r="5.3"/><circle cx="111.69" cy="985.57" r="4.47"/><circle cx="109.91" cy="984.13" r="5.06"/><circle cx="107.8" cy="981.46" r="4.36"/><circle cx="109.56" cy="976.04" r="3.87"/><circle cx="110.72" cy="973.97" r="5.01"/><circle cx="113.49" cy="972.66" r="4.19"/><circle cx="110.71" cy="969.06" r="4.8"/><circle cx="117.15" cy="967.21" r="3.92"/><circle cx="118.35" cy="964.25" r="5.58"/><circle cx="122.22" cy="965.01" r="5.24"/><circle cx="124.55" cy="962.82" r="5.5"/><circle cx="127.28" cy="961.24" r="3.57"/><circle cx="133.34" cy="960.03" r="2.83"/><circle cx="135.31" cy="962.8" r="5.31"/><circle cx="138.12" cy="964.25" r="4.28"/><circle cx="140.69" cy="962.85" r="2.97"/><circle cx="142.54" cy="967.17" r="3.38"/><circle cx="143.52" cy="969.98" r="3.82"/><circle cx="146" cy="972.42" r="4.57"/><circle cx="146.36" cy="975.27" r="2.89"/><circle cx="148.9" cy="976.49" r="4.46"/><circle cx="132.36" cy="968.57" r="2.91" fill="#A89C80" opacity="0.6"/><circle cx="127.84" cy="995.42" r="2.68" fill="#A89C80" opacity="0.6"/><circle cx="130" cy="982.48" r="1.62" fill="#A89C80" opacity="0.6"/><circle cx="128.57" cy="973.92" r="1.78" fill="#A89C80" opacity="0.6"/><circle cx="121.99" cy="975.21" r="1.71" fill="#A89C80" opacity="0.6"/><circle cx="134.23" cy="990.79" r="1.87" fill="#A89C80" opacity="0.6"/><circle cx="126.46" cy="994.17" r="2.33" fill="#A89C80" opacity="0.6"/><circle cx="123.73" cy="990.9" r="1.64" fill="#A89C80" opacity="0.6"/><circle cx="120.85" cy="987.94" r="1.9" fill="#A89C80" opacity="0.6"/><circle cx="139.47" cy="990.59" r="2.42" fill="#A89C80" opacity="0.6"/><circle cx="131.3" cy="992.92" r="2.91" fill="#A89C80" opacity="0.6"/><circle cx="130.31" cy="981.76" r="1.83" fill="#A89C80" opacity="0.6"/><circle cx="127.12" cy="975.54" r="2.73" fill="#A89C80" opacity="0.6"/><circle cx="123.41" cy="971.42" r="1.95" fill="#A89C80" opacity="0.6"/><circle cx="141.7" cy="979.43" r="2.43" fill="#A89C80" opacity="0.6"/><circle cx="130.35" cy="993.55" r="2.23" fill="#A89C80" opacity="0.6"/><circle cx="120.66" cy="977.55" r="2.61" fill="#A89C80" opacity="0.6"/><circle cx="136.04" cy="984.49" r="3.15" fill="#A89C80" opacity="0.6"/><circle cx="134.26" cy="975.58" r="2.97" fill="#A89C80" opacity="0.6"/><circle cx="122.85" cy="995.17" r="2.79" fill="#A89C80" opacity="0.6"/><circle cx="121.71" cy="985.33" r="1.61" fill="#A89C80" opacity="0.6"/><circle cx="130.44" cy="979.46" r="2.91" fill="#A89C80" opacity="0.6"/><circle cx="139.44" cy="978.8" r="1.87" fill="#A89C80" opacity="0.6"/><circle cx="138.4" cy="970.44" r="2.73" fill="#A89C80" opacity="0.6"/><circle cx="118.98" cy="980.98" r="2.16" fill="#A89C80" opacity="0.6"/><circle cx="131.72" cy="993.48" r="2.29" fill="#A89C80" opacity="0.6"/><circle cx="147.81" cy="980.68" r="1.7" fill="#F8DDCF" opacity="0.85"/><circle cx="148.79" cy="984.81" r="1.39" fill="#F8DDCF" opacity="0.85"/><circle cx="147.05" cy="993.03" r="1.12" fill="#F8DDCF" opacity="0.85"/><circle cx="146.56" cy="990.19" r="1.99" fill="#F8DDCF" opacity="0.85"/><circle cx="141.85" cy="996.56" r="1.29" fill="#F8DDCF" opacity="0.85"/><circle cx="140.88" cy="999.32" r="1.94" fill="#F8DDCF" opacity="0.85"/><circle cx="140.44" cy="999.79" r="1.72" fill="#F8DDCF" opacity="0.85"/><circle cx="136.33" cy="1002.28" r="1.31" fill="#F8DDCF" opacity="0.85"/><circle cx="130.46" cy="1000.84" r="1.25" fill="#F8DDCF" opacity="0.85"/><circle cx="125.84" cy="1001.21" r="1.78" fill="#F8DDCF" opacity="0.85"/><circle cx="124.8" cy="1003.04" r="1.43" fill="#F8DDCF" opacity="0.85"/><circle cx="123.95" cy="1001.13" r="1.88" fill="#F8DDCF" opacity="0.85"/><circle cx="117.97" cy="1001.12" r="1.9" fill="#F8DDCF" opacity="0.85"/><circle cx="119.04" cy="1000.26" r="1.19" fill="#F8DDCF" opacity="0.85"/><circle cx="117.64" cy="997.74" r="1.88" fill="#F8DDCF" opacity="0.85"/><circle cx="109.49" cy="992.5" r="1.41" fill="#F8DDCF" opacity="0.85"/><circle cx="108.7" cy="990.66" r="1.44" fill="#F8DDCF" opacity="0.85"/><circle cx="109.26" cy="987.26" r="1.17" fill="#F8DDCF" opacity="0.85"/><circle cx="107.03" cy="987.03" r="1.61" fill="#F8DDCF" opacity="0.85"/><circle cx="107.97" cy="978.01" r="1.35" fill="#F8DDCF" opacity="0.85"/><circle cx="107.34" cy="975.57" r="1.11" fill="#F8DDCF" opacity="0.85"/><circle cx="110.28" cy="974.08" r="1.2" fill="#F8DDCF" opacity="0.85"/><circle cx="112.77" cy="970" r="1.32" fill="#F8DDCF" opacity="0.85"/><circle cx="114.6" cy="966.23" r="1.2" fill="#F8DDCF" opacity="0.85"/><circle cx="112.69" cy="969.07" r="1.77" fill="#F8DDCF" opacity="0.85"/><circle cx="113.07" cy="965.57" r="1.44" fill="#F8DDCF" opacity="0.85"/><circle cx="122.74" cy="960.18" r="1.36" fill="#F8DDCF" opacity="0.85"/><circle cx="120.62" cy="962.29" r="1.19" fill="#F8DDCF" opacity="0.85"/><circle cx="127.14" cy="962.21" r="1.11" fill="#F8DDCF" opacity="0.85"/><circle cx="132.95" cy="961.92" r="1.64" fill="#F8DDCF" opacity="0.85"/><circle cx="131.94" cy="961.65" r="1.16" fill="#F8DDCF" opacity="0.85"/><circle cx="139.49" cy="962.3" r="1.97" fill="#F8DDCF" opacity="0.85"/><circle cx="135.45" cy="962.96" r="1.66" fill="#F8DDCF" opacity="0.85"/><circle cx="144.36" cy="968.13" r="1.72" fill="#F8DDCF" opacity="0.85"/><circle cx="144.1" cy="969.23" r="1.59" fill="#F8DDCF" opacity="0.85"/><circle cx="144.31" cy="969.56" r="1.17" fill="#F8DDCF" opacity="0.85"/><circle cx="147.94" cy="971.01" r="1.5" fill="#F8DDCF" opacity="0.85"/><circle cx="149.16" cy="977.69" r="1.95" fill="#F8DDCF" opacity="0.85"/><circle cx="148.3" cy="979" r="1.39" fill="#F8DDCF" opacity="0.85"/></g>
<ellipse cx="127.5" cy="946.2" rx="15.6" ry="13.6" fill="#463C2B" opacity="0.5" filter="url(#fb2)"/>
<g fill="#E4BBA5" filter="url(#mott)"><ellipse cx="127.5" cy="946.2" rx="12.06" ry="10.26"/><circle cx="135.87" cy="946.94" r="4.41"/><circle cx="137.52" cy="947.96" r="4.15"/><circle cx="135.97" cy="951.7" r="2.96"/><circle cx="132.71" cy="952.36" r="3.58"/><circle cx="131.06" cy="954.69" r="3.15"/><circle cx="126.36" cy="953.84" r="4.41"/><circle cx="124.74" cy="953.52" r="2.87"/><circle cx="122.68" cy="953.16" r="3.31"/><circle cx="119.87" cy="950.93" r="4.28"/><circle cx="118.58" cy="948.47" r="2.8"/><circle cx="116.7" cy="946.57" r="2.57"/><circle cx="119.23" cy="943.09" r="3.79"/><circle cx="119.77" cy="940.7" r="4.06"/><circle cx="122.18" cy="938.88" r="3.99"/><circle cx="123.89" cy="938.26" r="4.48"/><circle cx="126.66" cy="937.87" r="3.97"/><circle cx="130.54" cy="938.33" r="3.46"/><circle cx="134.88" cy="939.47" r="3.39"/><circle cx="135.83" cy="940.97" r="4.26"/><circle cx="138.1" cy="943.31" r="3.55"/><circle cx="126.53" cy="941.24" r="1.95" fill="#A89C80" opacity="0.6"/><circle cx="124.3" cy="951.58" r="1.87" fill="#A89C80" opacity="0.6"/><circle cx="131.17" cy="944.16" r="3.06" fill="#A89C80" opacity="0.6"/><circle cx="124.47" cy="952.77" r="2.73" fill="#A89C80" opacity="0.6"/><circle cx="121.4" cy="946.06" r="2.64" fill="#A89C80" opacity="0.6"/><circle cx="123.47" cy="944.09" r="1.93" fill="#A89C80" opacity="0.6"/><circle cx="139.69" cy="947.89" r="1.66" fill="#F8DDCF" opacity="0.85"/><circle cx="139.1" cy="949.27" r="1.75" fill="#F8DDCF" opacity="0.85"/><circle cx="133.94" cy="953.84" r="1.77" fill="#F8DDCF" opacity="0.85"/><circle cx="134.65" cy="954.24" r="1.35" fill="#F8DDCF" opacity="0.85"/><circle cx="130.72" cy="956.25" r="1.2" fill="#F8DDCF" opacity="0.85"/><circle cx="125.48" cy="956.44" r="1.32" fill="#F8DDCF" opacity="0.85"/><circle cx="123.24" cy="955.97" r="1.48" fill="#F8DDCF" opacity="0.85"/><circle cx="119.25" cy="952.1" r="1.43" fill="#F8DDCF" opacity="0.85"/><circle cx="117.7" cy="951.93" r="1.17" fill="#F8DDCF" opacity="0.85"/><circle cx="116.74" cy="945.97" r="1.76" fill="#F8DDCF" opacity="0.85"/><circle cx="116.34" cy="946.53" r="1.83" fill="#F8DDCF" opacity="0.85"/><circle cx="117.07" cy="943.12" r="1.72" fill="#F8DDCF" opacity="0.85"/><circle cx="119.53" cy="940.01" r="1.99" fill="#F8DDCF" opacity="0.85"/><circle cx="121.32" cy="938.68" r="1.41" fill="#F8DDCF" opacity="0.85"/><circle cx="126.17" cy="936.04" r="1.2" fill="#F8DDCF" opacity="0.85"/><circle cx="128.49" cy="937.07" r="1.5" fill="#F8DDCF" opacity="0.85"/><circle cx="134.06" cy="937.64" r="1.91" fill="#F8DDCF" opacity="0.85"/><circle cx="136.98" cy="939.64" r="1.73" fill="#F8DDCF" opacity="0.85"/><circle cx="137.35" cy="941.82" r="1.69" fill="#F8DDCF" opacity="0.85"/><circle cx="138.11" cy="944.08" r="1.5" fill="#F8DDCF" opacity="0.85"/></g>
<ellipse cx="156" cy="925" rx="9.8" ry="9.8" fill="#463C2B" opacity="0.5" filter="url(#fb2)"/>
<g fill="#E4BBA5" filter="url(#mott)"><ellipse cx="156" cy="925" rx="6.84" ry="6.84"/><circle cx="160.69" cy="924.7" r="3.23"/><circle cx="159.6" cy="927.2" r="3.4"/><circle cx="158.48" cy="928.33" r="3.85"/><circle cx="156.27" cy="929.16" r="4.18"/><circle cx="153.08" cy="929.23" r="3.09"/><circle cx="151.75" cy="927.95" r="3.42"/><circle cx="151.23" cy="924.97" r="3.65"/><circle cx="151.75" cy="923.11" r="3.68"/><circle cx="152.68" cy="919.83" r="2.16"/><circle cx="155.97" cy="919.95" r="3.6"/><circle cx="158.28" cy="921.48" r="4.02"/><circle cx="161.01" cy="922.57" r="3.03"/><circle cx="161.66" cy="927.48" r="1.22" fill="#F8DDCF" opacity="0.85"/><circle cx="161.5" cy="929.38" r="1.49" fill="#F8DDCF" opacity="0.85"/><circle cx="157.34" cy="931.24" r="1.56" fill="#F8DDCF" opacity="0.85"/><circle cx="154.62" cy="931.28" r="1.63" fill="#F8DDCF" opacity="0.85"/><circle cx="150.91" cy="929.76" r="1.71" fill="#F8DDCF" opacity="0.85"/><circle cx="149.1" cy="925.62" r="1.99" fill="#F8DDCF" opacity="0.85"/><circle cx="150.1" cy="922.98" r="1.87" fill="#F8DDCF" opacity="0.85"/><circle cx="152.06" cy="919.24" r="1.61" fill="#F8DDCF" opacity="0.85"/><circle cx="154.9" cy="918.81" r="1.85" fill="#F8DDCF" opacity="0.85"/><circle cx="157.83" cy="918.91" r="1.16" fill="#F8DDCF" opacity="0.85"/><circle cx="161.64" cy="920.76" r="1.18" fill="#F8DDCF" opacity="0.85"/><circle cx="162.42" cy="924.08" r="1.24" fill="#F8DDCF" opacity="0.85"/></g>
<ellipse cx="238.5" cy="938" rx="24.2" ry="23.7" fill="#463C2B" opacity="0.5" filter="url(#fb2)"/>
<g fill="#E4BBA5" filter="url(#mott)"><ellipse cx="238.5" cy="938" rx="19.8" ry="19.35"/><circle cx="256.55" cy="936.88" r="2.99"/><circle cx="256.59" cy="939.71" r="2.89"/><circle cx="255" cy="945.94" r="4.87"/><circle cx="253.41" cy="945.41" r="4.16"/><circle cx="252.31" cy="948.01" r="2.99"/><circle cx="248.51" cy="953.17" r="4.95"/><circle cx="245.66" cy="953.57" r="3.23"/><circle cx="243.8" cy="955.7" r="4.69"/><circle cx="239.33" cy="956.61" r="2.94"/><circle cx="237.09" cy="953.85" r="4.08"/><circle cx="234.03" cy="957.67" r="2.95"/><circle cx="230.56" cy="952.44" r="4.19"/><circle cx="226.27" cy="952.67" r="4.25"/><circle cx="225.46" cy="949.23" r="4.08"/><circle cx="225.01" cy="947.08" r="3.87"/><circle cx="225.12" cy="945.04" r="4.9"/><circle cx="223.08" cy="943.96" r="4.4"/><circle cx="221.4" cy="939.36" r="3.98"/><circle cx="220.9" cy="934.36" r="3.24"/><circle cx="222.26" cy="934.83" r="4.42"/><circle cx="223.35" cy="931.52" r="4.73"/><circle cx="226.24" cy="929.08" r="5.15"/><circle cx="223.56" cy="925.67" r="3.33"/><circle cx="229.25" cy="923.49" r="3.35"/><circle cx="231.18" cy="924.36" r="3.95"/><circle cx="235.15" cy="919.77" r="5.13"/><circle cx="238.67" cy="923.56" r="5.3"/><circle cx="240.02" cy="920.45" r="5.32"/><circle cx="243.55" cy="921.71" r="5.26"/><circle cx="247.55" cy="924.24" r="3.5"/><circle cx="249.5" cy="924.18" r="3.08"/><circle cx="251.53" cy="929.18" r="3.6"/><circle cx="254.28" cy="926.36" r="3.16"/><circle cx="253.6" cy="931.92" r="3.49"/><circle cx="255.09" cy="936.97" r="3.85"/><circle cx="241.55" cy="939.16" r="1.87" fill="#A89C80" opacity="0.6"/><circle cx="236.11" cy="933.29" r="1.67" fill="#A89C80" opacity="0.6"/><circle cx="231.57" cy="938.4" r="3.2" fill="#A89C80" opacity="0.6"/><circle cx="245.78" cy="944.87" r="2.84" fill="#A89C80" opacity="0.6"/><circle cx="226.86" cy="945.29" r="2.36" fill="#A89C80" opacity="0.6"/><circle cx="238.96" cy="946.7" r="1.66" fill="#A89C80" opacity="0.6"/><circle cx="232.4" cy="941.22" r="3.02" fill="#A89C80" opacity="0.6"/><circle cx="243.29" cy="929.62" r="1.65" fill="#A89C80" opacity="0.6"/><circle cx="238.31" cy="944.69" r="1.93" fill="#A89C80" opacity="0.6"/><circle cx="240.01" cy="950.6" r="1.83" fill="#A89C80" opacity="0.6"/><circle cx="251.21" cy="942.15" r="2.5" fill="#A89C80" opacity="0.6"/><circle cx="247.32" cy="937.49" r="3.04" fill="#A89C80" opacity="0.6"/><circle cx="231.48" cy="928.04" r="2.79" fill="#A89C80" opacity="0.6"/><circle cx="234.26" cy="938.15" r="1.94" fill="#A89C80" opacity="0.6"/><circle cx="247.76" cy="928.81" r="3.08" fill="#A89C80" opacity="0.6"/><circle cx="232.66" cy="947.43" r="2.88" fill="#A89C80" opacity="0.6"/><circle cx="230.65" cy="928.42" r="2.44" fill="#A89C80" opacity="0.6"/><circle cx="232.01" cy="928.7" r="2.03" fill="#A89C80" opacity="0.6"/><circle cx="250.54" cy="931.8" r="1.72" fill="#A89C80" opacity="0.6"/><circle cx="251.92" cy="935.59" r="2.67" fill="#A89C80" opacity="0.6"/><circle cx="251.18" cy="941.56" r="1.8" fill="#A89C80" opacity="0.6"/><circle cx="257.26" cy="943.22" r="1.15" fill="#F8DDCF" opacity="0.85"/><circle cx="257.74" cy="940.58" r="1.61" fill="#F8DDCF" opacity="0.85"/><circle cx="255.79" cy="948.3" r="1.3" fill="#F8DDCF" opacity="0.85"/><circle cx="256.9" cy="946.24" r="1.11" fill="#F8DDCF" opacity="0.85"/><circle cx="248.81" cy="952.34" r="1.83" fill="#F8DDCF" opacity="0.85"/><circle cx="247.61" cy="955.52" r="1.6" fill="#F8DDCF" opacity="0.85"/><circle cx="243.04" cy="955.2" r="1.7" fill="#F8DDCF" opacity="0.85"/><circle cx="244.3" cy="956.86" r="1.8" fill="#F8DDCF" opacity="0.85"/><circle cx="239.57" cy="956.64" r="1.12" fill="#F8DDCF" opacity="0.85"/><circle cx="239.5" cy="956.84" r="1.54" fill="#F8DDCF" opacity="0.85"/><circle cx="229.91" cy="954.93" r="1.22" fill="#F8DDCF" opacity="0.85"/><circle cx="230.09" cy="955.51" r="1.57" fill="#F8DDCF" opacity="0.85"/><circle cx="229.31" cy="955.36" r="1.84" fill="#F8DDCF" opacity="0.85"/><circle cx="226.36" cy="952.48" r="1.44" fill="#F8DDCF" opacity="0.85"/><circle cx="221.64" cy="945.43" r="1.31" fill="#F8DDCF" opacity="0.85"/><circle cx="219.47" cy="945.09" r="1.19" fill="#F8DDCF" opacity="0.85"/><circle cx="220.19" cy="944.2" r="1.9" fill="#F8DDCF" opacity="0.85"/><circle cx="219.66" cy="937.91" r="1.87" fill="#F8DDCF" opacity="0.85"/><circle cx="221.45" cy="933.03" r="1.89" fill="#F8DDCF" opacity="0.85"/><circle cx="220.55" cy="933.76" r="1.85" fill="#F8DDCF" opacity="0.85"/><circle cx="221.12" cy="928.56" r="1.25" fill="#F8DDCF" opacity="0.85"/><circle cx="226.8" cy="924.5" r="1.23" fill="#F8DDCF" opacity="0.85"/><circle cx="226.89" cy="923.84" r="1.59" fill="#F8DDCF" opacity="0.85"/><circle cx="232.1" cy="919.86" r="1.11" fill="#F8DDCF" opacity="0.85"/><circle cx="231.23" cy="920.68" r="1.54" fill="#F8DDCF" opacity="0.85"/><circle cx="237.58" cy="919.47" r="1.17" fill="#F8DDCF" opacity="0.85"/><circle cx="237.36" cy="918.46" r="1.42" fill="#F8DDCF" opacity="0.85"/><circle cx="245.14" cy="919.13" r="1.66" fill="#F8DDCF" opacity="0.85"/><circle cx="247.34" cy="921.19" r="1.38" fill="#F8DDCF" opacity="0.85"/><circle cx="251.39" cy="924.44" r="1.92" fill="#F8DDCF" opacity="0.85"/><circle cx="251.21" cy="922.8" r="1.81" fill="#F8DDCF" opacity="0.85"/><circle cx="254.25" cy="927.85" r="1.23" fill="#F8DDCF" opacity="0.85"/><circle cx="256.07" cy="931.92" r="1.7" fill="#F8DDCF" opacity="0.85"/><circle cx="254.82" cy="930.96" r="1.23" fill="#F8DDCF" opacity="0.85"/><circle cx="256.6" cy="938.6" r="1.91" fill="#F8DDCF" opacity="0.85"/></g>
<ellipse cx="251" cy="987" rx="14.2" ry="29.2" fill="#463C2B" opacity="0.5" filter="url(#fb2)"/>
<g fill="#E4BBA5" filter="url(#mott)"><ellipse cx="251" cy="987" rx="10.8" ry="24.3"/><circle cx="260.1" cy="987.72" r="3.99"/><circle cx="259.96" cy="994.45" r="3.98"/><circle cx="260.54" cy="994.07" r="3.35"/><circle cx="257" cy="998.76" r="4.35"/><circle cx="257.68" cy="1003.58" r="2.85"/><circle cx="255.84" cy="1005.53" r="2.32"/><circle cx="254.77" cy="1008.48" r="4.38"/><circle cx="253.09" cy="1006.62" r="4.11"/><circle cx="250.77" cy="1007.56" r="2.58"/><circle cx="248.56" cy="1007.85" r="2.77"/><circle cx="247.2" cy="1005.48" r="4.28"/><circle cx="245.08" cy="1005.31" r="3.52"/><circle cx="245.4" cy="1004.62" r="4.44"/><circle cx="244.07" cy="996.72" r="4.33"/><circle cx="243.22" cy="995.83" r="2.67"/><circle cx="242" cy="994.08" r="2.98"/><circle cx="242.84" cy="989.58" r="3.84"/><circle cx="242.79" cy="983.65" r="4.16"/><circle cx="242.21" cy="978.74" r="3.39"/><circle cx="244.7" cy="977.95" r="4.52"/><circle cx="246.17" cy="972.3" r="4.22"/><circle cx="246.4" cy="966.48" r="3.13"/><circle cx="246.7" cy="968.01" r="2.39"/><circle cx="250.13" cy="962.11" r="2.74"/><circle cx="251.81" cy="965.75" r="4.44"/><circle cx="252.52" cy="962.79" r="3.49"/><circle cx="253.68" cy="963.8" r="4"/><circle cx="257.69" cy="966.39" r="2.37"/><circle cx="256.95" cy="968.55" r="3.07"/><circle cx="259.92" cy="974.92" r="3.07"/><circle cx="259.11" cy="978.74" r="3"/><circle cx="259.36" cy="981.18" r="2.47"/><circle cx="261.99" cy="991.34" r="1.25" fill="#F8DDCF" opacity="0.85"/><circle cx="262.07" cy="989.85" r="1.58" fill="#F8DDCF" opacity="0.85"/><circle cx="259.96" cy="996.82" r="1.63" fill="#F8DDCF" opacity="0.85"/><circle cx="258.05" cy="1003.93" r="1.48" fill="#F8DDCF" opacity="0.85"/><circle cx="259.39" cy="1003.1" r="1.13" fill="#F8DDCF" opacity="0.85"/><circle cx="256.17" cy="1008.62" r="1.22" fill="#F8DDCF" opacity="0.85"/><circle cx="253.22" cy="1011.43" r="1.67" fill="#F8DDCF" opacity="0.85"/><circle cx="250.83" cy="1008.97" r="1.49" fill="#F8DDCF" opacity="0.85"/><circle cx="251.46" cy="1011.54" r="1.37" fill="#F8DDCF" opacity="0.85"/><circle cx="247.96" cy="1011.16" r="1.87" fill="#F8DDCF" opacity="0.85"/><circle cx="244.51" cy="1005.01" r="1.54" fill="#F8DDCF" opacity="0.85"/><circle cx="243.73" cy="1003.57" r="1.36" fill="#F8DDCF" opacity="0.85"/><circle cx="243.65" cy="1001.68" r="1.44" fill="#F8DDCF" opacity="0.85"/><circle cx="240.38" cy="994.27" r="1.66" fill="#F8DDCF" opacity="0.85"/><circle cx="241.31" cy="993.62" r="1.18" fill="#F8DDCF" opacity="0.85"/><circle cx="240.37" cy="991.58" r="1.88" fill="#F8DDCF" opacity="0.85"/><circle cx="240.18" cy="985.96" r="1.8" fill="#F8DDCF" opacity="0.85"/><circle cx="241.09" cy="978.29" r="1.78" fill="#F8DDCF" opacity="0.85"/><circle cx="241.3" cy="976.83" r="1.35" fill="#F8DDCF" opacity="0.85"/><circle cx="242.61" cy="971.69" r="1.72" fill="#F8DDCF" opacity="0.85"/><circle cx="243.29" cy="969.1" r="1.68" fill="#F8DDCF" opacity="0.85"/><circle cx="246.74" cy="967.6" r="1.59" fill="#F8DDCF" opacity="0.85"/><circle cx="246.91" cy="964.88" r="1.52" fill="#F8DDCF" opacity="0.85"/><circle cx="251.3" cy="963.14" r="1.82" fill="#F8DDCF" opacity="0.85"/><circle cx="251.4" cy="963.16" r="1.76" fill="#F8DDCF" opacity="0.85"/><circle cx="255.19" cy="966.21" r="1.86" fill="#F8DDCF" opacity="0.85"/><circle cx="257.36" cy="967.72" r="1.98" fill="#F8DDCF" opacity="0.85"/><circle cx="258.95" cy="971.9" r="1.58" fill="#F8DDCF" opacity="0.85"/><circle cx="258.43" cy="969.05" r="1.94" fill="#F8DDCF" opacity="0.85"/><circle cx="260.37" cy="975.48" r="1.75" fill="#F8DDCF" opacity="0.85"/><circle cx="260.67" cy="982.54" r="1.8" fill="#F8DDCF" opacity="0.85"/><circle cx="261.62" cy="985.43" r="1.48" fill="#F8DDCF" opacity="0.85"/></g>
<ellipse cx="239" cy="1030" rx="19.7" ry="18.7" fill="#463C2B" opacity="0.5" filter="url(#fb2)"/>
<g fill="#E4BBA5" filter="url(#mott)"><ellipse cx="239" cy="1030" rx="15.75" ry="14.85"/><circle cx="252.17" cy="1030.86" r="4.53"/><circle cx="254.09" cy="1032.38" r="2.49"/><circle cx="250.69" cy="1035.14" r="4.37"/><circle cx="250.33" cy="1039.62" r="3.16"/><circle cx="247.17" cy="1040.72" r="3.52"/><circle cx="244.74" cy="1042.5" r="2.97"/><circle cx="241.31" cy="1044.16" r="3.15"/><circle cx="238.44" cy="1041.75" r="4.58"/><circle cx="237.19" cy="1043.21" r="4.48"/><circle cx="233.34" cy="1041.37" r="2.72"/><circle cx="228.74" cy="1041.25" r="3.21"/><circle cx="227.14" cy="1038.46" r="2.99"/><circle cx="226.22" cy="1036.21" r="4.8"/><circle cx="225.09" cy="1032.91" r="4.09"/><circle cx="227.61" cy="1029.22" r="4.91"/><circle cx="226.27" cy="1027.71" r="3.98"/><circle cx="224.78" cy="1023.24" r="2.71"/><circle cx="227.26" cy="1021.13" r="2.78"/><circle cx="229.59" cy="1019.94" r="2.97"/><circle cx="231" cy="1017.41" r="3.01"/><circle cx="236.24" cy="1015.52" r="2.52"/><circle cx="237.2" cy="1015.56" r="3.31"/><circle cx="242.44" cy="1017.6" r="3.25"/><circle cx="245.69" cy="1016.08" r="2.8"/><circle cx="246.96" cy="1018.32" r="3.54"/><circle cx="248.3" cy="1022.77" r="4.92"/><circle cx="251.95" cy="1025.83" r="4.7"/><circle cx="253.96" cy="1028.16" r="3.6"/><circle cx="241.27" cy="1022.81" r="2.35" fill="#A89C80" opacity="0.6"/><circle cx="237.05" cy="1023.58" r="1.74" fill="#A89C80" opacity="0.6"/><circle cx="238.88" cy="1024.62" r="2.38" fill="#A89C80" opacity="0.6"/><circle cx="239.97" cy="1025.77" r="1.63" fill="#A89C80" opacity="0.6"/><circle cx="245.07" cy="1035.61" r="2.18" fill="#A89C80" opacity="0.6"/><circle cx="238.71" cy="1037.01" r="3.08" fill="#A89C80" opacity="0.6"/><circle cx="238.79" cy="1036.68" r="3.01" fill="#A89C80" opacity="0.6"/><circle cx="234.64" cy="1026.5" r="2.36" fill="#A89C80" opacity="0.6"/><circle cx="234.86" cy="1030.53" r="2.2" fill="#A89C80" opacity="0.6"/><circle cx="235.6" cy="1038.79" r="2.12" fill="#A89C80" opacity="0.6"/><circle cx="233.11" cy="1021.35" r="3.08" fill="#A89C80" opacity="0.6"/><circle cx="232.88" cy="1035.69" r="2.11" fill="#A89C80" opacity="0.6"/><circle cx="232.79" cy="1034.35" r="2.87" fill="#A89C80" opacity="0.6"/><circle cx="253.06" cy="1033.91" r="1.11" fill="#F8DDCF" opacity="0.85"/><circle cx="252.43" cy="1034.14" r="1.13" fill="#F8DDCF" opacity="0.85"/><circle cx="250.17" cy="1038.35" r="1.75" fill="#F8DDCF" opacity="0.85"/><circle cx="251.02" cy="1040.15" r="1.87" fill="#F8DDCF" opacity="0.85"/><circle cx="248.69" cy="1040.09" r="1.95" fill="#F8DDCF" opacity="0.85"/><circle cx="243.3" cy="1043.51" r="1.8" fill="#F8DDCF" opacity="0.85"/><circle cx="238.8" cy="1044.25" r="1.52" fill="#F8DDCF" opacity="0.85"/><circle cx="239.71" cy="1043.96" r="1.23" fill="#F8DDCF" opacity="0.85"/><circle cx="233.2" cy="1043.43" r="1.23" fill="#F8DDCF" opacity="0.85"/><circle cx="230.83" cy="1040.97" r="1.19" fill="#F8DDCF" opacity="0.85"/><circle cx="227.75" cy="1039.43" r="1.91" fill="#F8DDCF" opacity="0.85"/><circle cx="225.38" cy="1037.17" r="1.21" fill="#F8DDCF" opacity="0.85"/><circle cx="225.1" cy="1032.7" r="1.66" fill="#F8DDCF" opacity="0.85"/><circle cx="222.96" cy="1029.21" r="1.9" fill="#F8DDCF" opacity="0.85"/><circle cx="223.49" cy="1028.64" r="1.81" fill="#F8DDCF" opacity="0.85"/><circle cx="223.15" cy="1027.1" r="1.92" fill="#F8DDCF" opacity="0.85"/><circle cx="225.45" cy="1022.39" r="1.5" fill="#F8DDCF" opacity="0.85"/><circle cx="227.01" cy="1020.56" r="1.16" fill="#F8DDCF" opacity="0.85"/><circle cx="232.08" cy="1016.17" r="1.36" fill="#F8DDCF" opacity="0.85"/><circle cx="236.73" cy="1016.79" r="1.87" fill="#F8DDCF" opacity="0.85"/><circle cx="235.78" cy="1015.03" r="1.49" fill="#F8DDCF" opacity="0.85"/><circle cx="242.9" cy="1017.25" r="1.18" fill="#F8DDCF" opacity="0.85"/><circle cx="245.9" cy="1016.97" r="1.58" fill="#F8DDCF" opacity="0.85"/><circle cx="244.26" cy="1017.37" r="1.43" fill="#F8DDCF" opacity="0.85"/><circle cx="248.26" cy="1017.4" r="1.79" fill="#F8DDCF" opacity="0.85"/><circle cx="253.48" cy="1024.53" r="1.41" fill="#F8DDCF" opacity="0.85"/><circle cx="252.7" cy="1022.85" r="1.2" fill="#F8DDCF" opacity="0.85"/><circle cx="253.99" cy="1028.68" r="1.55" fill="#F8DDCF" opacity="0.85"/></g>
<ellipse cx="147" cy="1026.8" rx="17.4" ry="18" fill="#463C2B" opacity="0.5" filter="url(#fb2)"/>
<g fill="#E4BBA5" filter="url(#mott)"><ellipse cx="147" cy="1026.8" rx="13.68" ry="14.22"/><circle cx="159.78" cy="1026.23" r="2.8"/><circle cx="158.13" cy="1028.55" r="3.73"/><circle cx="156.52" cy="1030.98" r="3.66"/><circle cx="155.25" cy="1034.65" r="2.6"/><circle cx="152.56" cy="1035.64" r="4.44"/><circle cx="151.76" cy="1039.28" r="3.95"/><circle cx="147.59" cy="1040.76" r="3.39"/><circle cx="146.16" cy="1037.81" r="4.51"/><circle cx="142.92" cy="1038.34" r="2.71"/><circle cx="138.31" cy="1036.23" r="2.87"/><circle cx="136.99" cy="1033.89" r="3.33"/><circle cx="136.78" cy="1032.39" r="2.57"/><circle cx="135.76" cy="1027.77" r="3.47"/><circle cx="135.92" cy="1025.09" r="3.53"/><circle cx="137.41" cy="1021.97" r="4.13"/><circle cx="136.78" cy="1018.72" r="3.7"/><circle cx="138.94" cy="1015.38" r="3.13"/><circle cx="140.59" cy="1015.39" r="3.44"/><circle cx="144.22" cy="1016.34" r="3.62"/><circle cx="148.18" cy="1014.81" r="4.29"/><circle cx="151.97" cy="1014.64" r="3.19"/><circle cx="153.35" cy="1016.81" r="3.84"/><circle cx="155.52" cy="1019.67" r="4.72"/><circle cx="158.73" cy="1020.68" r="2.58"/><circle cx="158.5" cy="1024.15" r="4.84"/><circle cx="145.71" cy="1032.86" r="2.67" fill="#A89C80" opacity="0.6"/><circle cx="153.47" cy="1027.76" r="1.87" fill="#A89C80" opacity="0.6"/><circle cx="148.73" cy="1028.43" r="2.83" fill="#A89C80" opacity="0.6"/><circle cx="150.29" cy="1030.41" r="2.23" fill="#A89C80" opacity="0.6"/><circle cx="148.89" cy="1024.75" r="2.32" fill="#A89C80" opacity="0.6"/><circle cx="138.4" cy="1023.93" r="2.91" fill="#A89C80" opacity="0.6"/><circle cx="150.33" cy="1022.82" r="2.26" fill="#A89C80" opacity="0.6"/><circle cx="141.29" cy="1034.09" r="3.13" fill="#A89C80" opacity="0.6"/><circle cx="149.35" cy="1030.21" r="1.97" fill="#A89C80" opacity="0.6"/><circle cx="147.7" cy="1033.72" r="2.54" fill="#A89C80" opacity="0.6"/><circle cx="159.16" cy="1027.19" r="1.48" fill="#F8DDCF" opacity="0.85"/><circle cx="159.59" cy="1031.2" r="1.96" fill="#F8DDCF" opacity="0.85"/><circle cx="157.04" cy="1035.67" r="1.66" fill="#F8DDCF" opacity="0.85"/><circle cx="154.13" cy="1037.17" r="1.91" fill="#F8DDCF" opacity="0.85"/><circle cx="151.47" cy="1040.47" r="1.82" fill="#F8DDCF" opacity="0.85"/><circle cx="149.97" cy="1039.9" r="1.19" fill="#F8DDCF" opacity="0.85"/><circle cx="145.57" cy="1039.48" r="1.16" fill="#F8DDCF" opacity="0.85"/><circle cx="144.55" cy="1039.52" r="1.41" fill="#F8DDCF" opacity="0.85"/><circle cx="142.42" cy="1038.51" r="1.24" fill="#F8DDCF" opacity="0.85"/><circle cx="139.13" cy="1037.4" r="1.12" fill="#F8DDCF" opacity="0.85"/><circle cx="134.45" cy="1031.6" r="1.23" fill="#F8DDCF" opacity="0.85"/><circle cx="134.93" cy="1031.38" r="1.43" fill="#F8DDCF" opacity="0.85"/><circle cx="133.32" cy="1028.96" r="1.99" fill="#F8DDCF" opacity="0.85"/><circle cx="134.25" cy="1023.59" r="1.18" fill="#F8DDCF" opacity="0.85"/><circle cx="134.91" cy="1022.31" r="1.34" fill="#F8DDCF" opacity="0.85"/><circle cx="139.1" cy="1016.76" r="1.12" fill="#F8DDCF" opacity="0.85"/><circle cx="142.04" cy="1014.08" r="1.23" fill="#F8DDCF" opacity="0.85"/><circle cx="143.43" cy="1014.66" r="1.58" fill="#F8DDCF" opacity="0.85"/><circle cx="148.78" cy="1012.51" r="1.73" fill="#F8DDCF" opacity="0.85"/><circle cx="148.2" cy="1013.46" r="1.25" fill="#F8DDCF" opacity="0.85"/><circle cx="153.89" cy="1015.08" r="1.8" fill="#F8DDCF" opacity="0.85"/><circle cx="154.35" cy="1016.16" r="1.83" fill="#F8DDCF" opacity="0.85"/><circle cx="159.56" cy="1020.74" r="1.83" fill="#F8DDCF" opacity="0.85"/><circle cx="160.2" cy="1023.3" r="1.3" fill="#F8DDCF" opacity="0.85"/><circle cx="159.77" cy="1025.22" r="1.13" fill="#F8DDCF" opacity="0.85"/></g>
<ellipse cx="128.5" cy="1065.5" rx="17.2" ry="17.2" fill="#463C2B" opacity="0.5" filter="url(#fb2)"/>
<g fill="#E4BBA5" filter="url(#mott)"><ellipse cx="128.5" cy="1065.5" rx="13.5" ry="13.5"/><circle cx="138.21" cy="1064.86" r="4.75"/><circle cx="139.41" cy="1069.01" r="2.63"/><circle cx="138.48" cy="1072.98" r="2.93"/><circle cx="136.79" cy="1073.63" r="3.52"/><circle cx="134.03" cy="1073.62" r="4.43"/><circle cx="132.22" cy="1076.51" r="2.47"/><circle cx="128.73" cy="1076.02" r="4.6"/><circle cx="126.24" cy="1078.76" r="3.05"/><circle cx="124.04" cy="1075.53" r="3.92"/><circle cx="119.4" cy="1073.92" r="3.24"/><circle cx="117.73" cy="1071.73" r="3.99"/><circle cx="118.02" cy="1068.09" r="2.76"/><circle cx="117.9" cy="1064.36" r="3.6"/><circle cx="117.24" cy="1061.15" r="3.82"/><circle cx="119.13" cy="1058.88" r="3.11"/><circle cx="120.19" cy="1055.52" r="2.75"/><circle cx="121.64" cy="1055.9" r="4.09"/><circle cx="126.82" cy="1054.66" r="4.46"/><circle cx="127.61" cy="1053.31" r="2.78"/><circle cx="132.03" cy="1052.43" r="2.59"/><circle cx="133.71" cy="1056.51" r="4.12"/><circle cx="136.37" cy="1056.6" r="2.45"/><circle cx="137.96" cy="1059.31" r="3.44"/><circle cx="138.31" cy="1063.7" r="4.58"/><circle cx="125.43" cy="1067.85" r="2.66" fill="#A89C80" opacity="0.6"/><circle cx="132.71" cy="1064.83" r="2.83" fill="#A89C80" opacity="0.6"/><circle cx="128.16" cy="1066.54" r="2.82" fill="#A89C80" opacity="0.6"/><circle cx="126.37" cy="1068.78" r="2.3" fill="#A89C80" opacity="0.6"/><circle cx="129.2" cy="1071.54" r="2.31" fill="#A89C80" opacity="0.6"/><circle cx="122.17" cy="1069.09" r="2.06" fill="#A89C80" opacity="0.6"/><circle cx="130.79" cy="1067.06" r="1.77" fill="#A89C80" opacity="0.6"/><circle cx="122.86" cy="1064.75" r="2.89" fill="#A89C80" opacity="0.6"/><circle cx="120.52" cy="1065.25" r="3.17" fill="#A89C80" opacity="0.6"/><circle cx="129.64" cy="1065.98" r="1.82" fill="#A89C80" opacity="0.6"/><circle cx="141.57" cy="1066.62" r="1.77" fill="#F8DDCF" opacity="0.85"/><circle cx="141.62" cy="1070.04" r="1.1" fill="#F8DDCF" opacity="0.85"/><circle cx="137.25" cy="1074.3" r="1.89" fill="#F8DDCF" opacity="0.85"/><circle cx="138.85" cy="1074.75" r="1.78" fill="#F8DDCF" opacity="0.85"/><circle cx="131.06" cy="1078.38" r="1.26" fill="#F8DDCF" opacity="0.85"/><circle cx="127.77" cy="1078.34" r="1.18" fill="#F8DDCF" opacity="0.85"/><circle cx="126.27" cy="1078.28" r="1.53" fill="#F8DDCF" opacity="0.85"/><circle cx="125.42" cy="1077.34" r="1.62" fill="#F8DDCF" opacity="0.85"/><circle cx="121.23" cy="1075.36" r="1.5" fill="#F8DDCF" opacity="0.85"/><circle cx="117.18" cy="1072.66" r="1.52" fill="#F8DDCF" opacity="0.85"/><circle cx="116.98" cy="1070.86" r="1.3" fill="#F8DDCF" opacity="0.85"/><circle cx="116.04" cy="1068.71" r="1.2" fill="#F8DDCF" opacity="0.85"/><circle cx="115.44" cy="1062.57" r="1.65" fill="#F8DDCF" opacity="0.85"/><circle cx="116.05" cy="1062.95" r="1.49" fill="#F8DDCF" opacity="0.85"/><circle cx="116.26" cy="1058.94" r="1.78" fill="#F8DDCF" opacity="0.85"/><circle cx="120.37" cy="1054.88" r="1.28" fill="#F8DDCF" opacity="0.85"/><circle cx="122.24" cy="1054.08" r="1.77" fill="#F8DDCF" opacity="0.85"/><circle cx="127.64" cy="1053.52" r="1.65" fill="#F8DDCF" opacity="0.85"/><circle cx="132.4" cy="1052.63" r="1.93" fill="#F8DDCF" opacity="0.85"/><circle cx="135.37" cy="1055.13" r="1.37" fill="#F8DDCF" opacity="0.85"/><circle cx="137.17" cy="1054.63" r="1.43" fill="#F8DDCF" opacity="0.85"/><circle cx="140.63" cy="1059.22" r="1.56" fill="#F8DDCF" opacity="0.85"/><circle cx="141.56" cy="1060.84" r="1.8" fill="#F8DDCF" opacity="0.85"/><circle cx="141.84" cy="1062.62" r="1.28" fill="#F8DDCF" opacity="0.85"/></g>
</g>
<line x1="211.2" y1="1075.3" x2="249" y2="1075.3" stroke="#111" stroke-width="1.6"/>
<line x1="211.4" y1="1072.9" x2="211.4" y2="1077.7" stroke="#111" stroke-width="1.3"/>
<line x1="248.8" y1="1072.9" x2="248.8" y2="1077.7" stroke="#111" stroke-width="1.3"/>
<text x="207.5" y="1067.8" font-size="12.4" fill="#111" textLength="43" lengthAdjust="spacingAndGlyphs">100 µM</text>
</g>
<g id="panel-g">
<text x="262.7" y="891.3" font-size="32.5" font-weight="bold">g</text>
<text x="290.3" y="1011" font-size="19.3" text-anchor="middle" transform="rotate(-90 290.3 1011)">mRNA expression</text>
<text x="313.3" y="1009.5" font-size="19.6" text-anchor="middle" transform="rotate(-90 313.3 1009.5)">relative to adherenat cells (%)</text>
<rect x="380.3" y="959.77" width="28" height="112.33" fill="#F7BF87" stroke="#000" stroke-width="1.6"/>
<line x1="394.3" y1="923.29" x2="394.3" y2="995.42" stroke="#000" stroke-width="1.3"/>
<line x1="386.8" y1="923.29" x2="401.8" y2="923.29" stroke="#000" stroke-width="1.3"/>
<line x1="386.8" y1="995.42" x2="401.8" y2="995.42" stroke="#000" stroke-width="1.3"/>
<circle cx="394.3" cy="931.17" r="2.9"/>
<circle cx="394.3" cy="946.09" r="2.9"/>
<circle cx="394.3" cy="999.98" r="2.9"/>
<text x="395.4" y="924.49" font-size="15.6" text-anchor="middle" stroke="#000" stroke-width="0.45" letter-spacing="0.9">***</text>
<rect x="424" y="953.55" width="28" height="118.55" fill="#F7BF87" stroke="#000" stroke-width="1.6"/>
<line x1="438" y1="916.66" x2="438" y2="990.44" stroke="#000" stroke-width="1.3"/>
<line x1="430.5" y1="916.66" x2="445.5" y2="916.66" stroke="#000" stroke-width="1.3"/>
<line x1="430.5" y1="990.44" x2="445.5" y2="990.44" stroke="#000" stroke-width="1.3"/>
<circle cx="438" cy="925.78" r="2.9"/>
<circle cx="438" cy="939.05" r="2.9"/>
<circle cx="438" cy="995.83" r="2.9"/>
<text x="439.1" y="916.76" font-size="15.6" text-anchor="middle" stroke="#000" stroke-width="0.45" letter-spacing="0.9">***</text>
<rect x="467.7" y="1072.1" width="28" height="9.12" fill="#F7BF87" stroke="#000" stroke-width="1.6"/>
<line x1="481.7" y1="1075" x2="481.7" y2="1088.68" stroke="#000" stroke-width="1.3"/>
<line x1="475.2" y1="1075" x2="488.2" y2="1075" stroke="#000" stroke-width="1.3"/>
<line x1="475.2" y1="1088.68" x2="488.2" y2="1088.68" stroke="#000" stroke-width="1.3"/>
<circle cx="476.1" cy="1076.66" r="2.9"/>
<circle cx="487" cy="1078.73" r="2.9"/>
<circle cx="481.7" cy="1088.68" r="2.9"/>
<rect x="511.4" y="1071.27" width="28" height="0.83" fill="#F7BF87" stroke="#000" stroke-width="1.6"/>
<line x1="525.4" y1="1068.37" x2="525.4" y2="1079.15" stroke="#000" stroke-width="1.3"/>
<line x1="518.9" y1="1068.37" x2="531.9" y2="1068.37" stroke="#000" stroke-width="1.3"/>
<line x1="518.9" y1="1079.15" x2="531.9" y2="1079.15" stroke="#000" stroke-width="1.3"/>
<circle cx="520" cy="1068.78" r="2.9"/>
<circle cx="530.6" cy="1072.1" r="2.9"/>
<circle cx="525.4" cy="1079.56" r="2.9"/>
<rect x="555.1" y="1072.1" width="28" height="17.82" fill="#F7BF87" stroke="#000" stroke-width="1.6"/>
<line x1="569.1" y1="1082.05" x2="569.1" y2="1099.04" stroke="#000" stroke-width="1.3"/>
<line x1="562.6" y1="1082.05" x2="575.6" y2="1082.05" stroke="#000" stroke-width="1.3"/>
<line x1="562.6" y1="1099.04" x2="575.6" y2="1099.04" stroke="#000" stroke-width="1.3"/>
<circle cx="563.7" cy="1083.71" r="2.9"/>
<circle cx="574.5" cy="1088.27" r="2.9"/>
<circle cx="569.1" cy="1099.46" r="2.9"/>
<text x="570.5" y="1072.4" font-size="15.6" text-anchor="middle" stroke="#000" stroke-width="0.45" letter-spacing="0.9">*</text>
<rect x="598.8" y="1072.1" width="28" height="15.75" fill="#F7BF87" stroke="#000" stroke-width="1.6"/>
<line x1="612.8" y1="1079.98" x2="612.8" y2="1096.97" stroke="#000" stroke-width="1.3"/>
<line x1="606.3" y1="1079.98" x2="619.3" y2="1079.98" stroke="#000" stroke-width="1.3"/>
<line x1="606.3" y1="1096.97" x2="619.3" y2="1096.97" stroke="#000" stroke-width="1.3"/>
<circle cx="607.4" cy="1082.05" r="2.9"/>
<circle cx="618.2" cy="1085.78" r="2.9"/>
<circle cx="612.8" cy="1098.21" r="2.9"/>
<text x="614.2" y="1072.4" font-size="15.6" text-anchor="middle" stroke="#000" stroke-width="0.45" letter-spacing="0.9">*</text>
<line x1="365.9" y1="905.2" x2="365.9" y2="1114.65" stroke="#000" stroke-width="2.3"/>
<line x1="364.8" y1="1113.55" x2="643.5" y2="1113.55" stroke="#000" stroke-width="2.3"/>
<line x1="365.9" y1="1072.1" x2="643.5" y2="1072.1" stroke="#000" stroke-width="2.3"/>
<line x1="357.9" y1="1113.55" x2="365.9" y2="1113.55" stroke="#000" stroke-width="2.3"/>
<text x="355.5" y="1120.55" font-size="19.3" text-anchor="end">-100</text>
<line x1="357.9" y1="1072.1" x2="365.9" y2="1072.1" stroke="#000" stroke-width="2.3"/>
<text x="355.5" y="1079.1" font-size="19.3" text-anchor="end">0</text>
<line x1="357.9" y1="1030.65" x2="365.9" y2="1030.65" stroke="#000" stroke-width="2.3"/>
<text x="355.5" y="1037.65" font-size="19.3" text-anchor="end">100</text>
<line x1="357.9" y1="989.2" x2="365.9" y2="989.2" stroke="#000" stroke-width="2.3"/>
<text x="355.5" y="996.2" font-size="19.3" text-anchor="end">200</text>
<line x1="357.9" y1="947.75" x2="365.9" y2="947.75" stroke="#000" stroke-width="2.3"/>
<text x="355.5" y="954.75" font-size="19.3" text-anchor="end">300</text>
<line x1="357.9" y1="906.3" x2="365.9" y2="906.3" stroke="#000" stroke-width="2.3"/>
<text x="355.5" y="913.3" font-size="19.3" text-anchor="end">400</text>
<line x1="394.3" y1="1113.55" x2="394.3" y2="1121.35" stroke="#000" stroke-width="2.3"/>
<text x="404.8" y="1131.05" font-size="19.3" text-anchor="end" transform="rotate(-45 404.8 1131.05)">Sox2</text>
<line x1="438" y1="1113.55" x2="438" y2="1121.35" stroke="#000" stroke-width="2.3"/>
<text x="446.5" y="1131.05" font-size="19.3" text-anchor="end" transform="rotate(-45 446.5 1131.05)">Nestin</text>
<line x1="481.7" y1="1113.55" x2="481.7" y2="1121.35" stroke="#000" stroke-width="2.3"/>
<text x="496.2" y="1131.05" font-size="19.3" text-anchor="end" transform="rotate(-45 496.2 1131.05)">ASIC1a</text>
<line x1="525.4" y1="1113.55" x2="525.4" y2="1121.35" stroke="#000" stroke-width="2.3"/>
<text x="537.9" y="1131.05" font-size="19.3" text-anchor="end" transform="rotate(-45 537.9 1131.05)">ASIC2</text>
<line x1="569.1" y1="1113.55" x2="569.1" y2="1121.35" stroke="#000" stroke-width="2.3"/>
<text x="581.6" y="1131.05" font-size="19.3" text-anchor="end" transform="rotate(-45 581.6 1131.05)">ASIC3</text>
<line x1="612.8" y1="1113.55" x2="612.8" y2="1121.35" stroke="#000" stroke-width="2.3"/>
<text x="623.3" y="1131.05" font-size="19.3" text-anchor="end" transform="rotate(-45 623.3 1131.05)">ASIC4</text>
</g>
</svg>
</body>
</html>
